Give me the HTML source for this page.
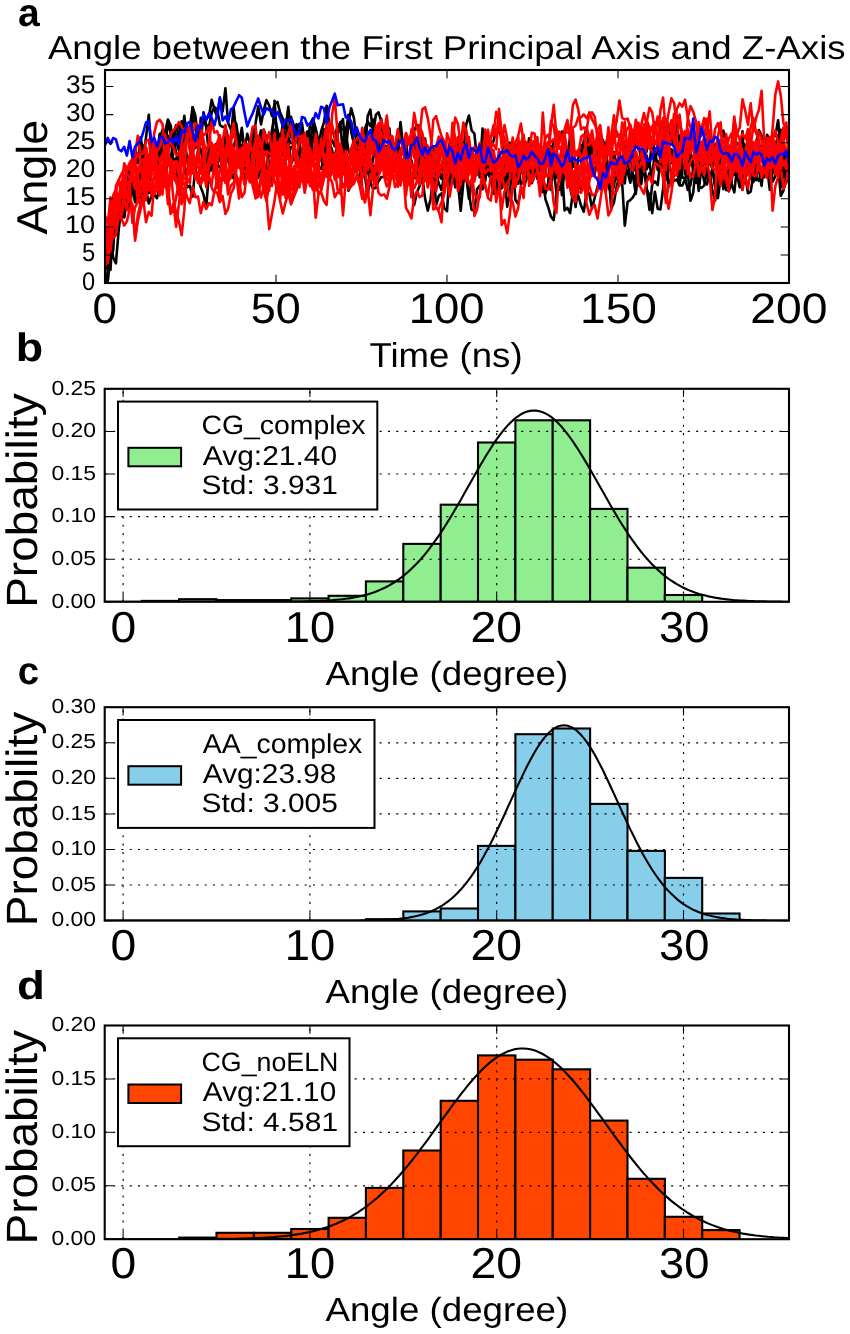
<!DOCTYPE html>
<html><head><meta charset="utf-8"><title>figure</title>
<style>html,body{margin:0;padding:0;background:#fff}svg{display:block;will-change:transform;transform:translateZ(0)}</style></head>
<body>
<svg width="850" height="1334" viewBox="0 0 850 1334" font-family="'Liberation Sans', sans-serif" text-rendering="geometricPrecision">
<rect width="850" height="1334" fill="#fff"/>
<clipPath id="ca"><rect x="105.0" y="70.0" width="684.0" height="213.0"/></clipPath>
<g clip-path="url(#ca)">
<polyline points="105.0,277.4 107.7,281.3 110.5,234.3 113.2,237.3 115.9,234.9 118.7,227.2 121.4,202.4 124.2,217.1 126.9,188.6 129.6,179.1 132.4,180.3 135.1,200.3 137.8,177.9 140.6,160.9 143.3,157.2 146.0,137.3 148.8,114.7 151.5,156.7 154.2,168.2 157.0,178.0 159.7,143.0 162.5,153.2 165.2,163.9 167.9,135.8 170.7,138.6 173.4,161.1 176.1,158.1 178.9,194.5 181.6,153.1 184.3,162.8 187.1,187.3 189.8,185.5 192.6,196.6 195.3,167.3 198.0,179.7 200.8,162.3 203.5,177.7 206.2,166.4 209.0,146.1 211.7,155.6 214.4,145.5 217.2,143.3 219.9,155.8 222.6,168.4 225.4,166.0 228.1,150.5 230.9,137.4 233.6,107.3 236.3,133.3 239.1,144.8 241.8,130.7 244.5,162.3 247.3,162.1 250.0,148.2 252.7,152.6 255.5,160.8 258.2,159.0 261.0,159.8 263.7,174.1 266.4,167.0 269.2,185.5 271.9,182.3 274.6,157.5 277.4,147.9 280.1,164.1 282.8,135.7 285.6,148.5 288.3,156.2 291.0,147.2 293.8,145.8 296.5,124.2 299.3,144.3 302.0,155.6 304.7,135.8 307.5,131.4 310.2,158.0 312.9,138.1 315.7,128.5 318.4,140.8 321.1,160.1 323.9,134.5 326.6,135.7 329.4,148.6 332.1,151.9 334.8,161.6 337.6,151.9 340.3,157.8 343.0,138.2 345.8,132.0 348.5,114.7 351.2,131.9 354.0,143.1 356.7,153.2 359.4,164.0 362.2,167.3 364.9,151.8 367.7,116.1 370.4,109.6 373.1,133.8 375.9,114.7 378.6,112.3 381.3,121.8 384.1,150.8 386.8,169.5 389.5,151.2 392.3,177.9 395.0,155.9 397.8,157.9 400.5,150.3 403.2,153.2 406.0,143.5 408.7,143.6 411.4,137.5 414.2,147.0 416.9,171.0 419.6,158.3 422.4,150.0 425.1,159.8 427.8,184.1 430.6,149.8 433.3,176.3 436.1,178.3 438.8,143.1 441.5,146.6 444.3,164.9 447.0,170.0 449.7,157.5 452.5,154.4 455.2,144.3 457.9,141.5 460.7,150.8 463.4,156.1 466.2,166.6 468.9,193.1 471.6,209.9 474.4,210.3 477.1,189.1 479.8,185.5 482.6,189.2 485.3,164.0 488.0,163.8 490.8,167.3 493.5,177.0 496.2,195.8 499.0,180.7 501.7,173.1 504.5,162.7 507.2,152.5 509.9,142.7 512.7,156.6 515.4,143.5 518.1,176.9 520.9,156.8 523.6,147.7 526.3,159.4 529.1,138.2 531.8,168.2 534.6,150.9 537.3,153.7 540.0,147.2 542.8,148.3 545.5,152.7 548.2,157.6 551.0,185.5 553.7,160.3 556.4,157.4 559.2,179.1 561.9,167.1 564.6,210.4 567.4,207.8 570.1,213.1 572.9,191.9 575.6,194.9 578.3,195.8 581.1,205.8 583.8,211.8 586.5,192.7 589.3,193.6 592.0,208.4 594.7,197.8 597.5,186.8 600.2,178.6 603.0,172.9 605.7,168.3 608.4,185.8 611.2,194.1 613.9,186.3 616.6,168.3 619.4,181.5 622.1,175.9 624.8,169.8 627.6,161.0 630.3,162.5 633.0,175.7 635.8,193.9 638.5,158.2 641.3,184.1 644.0,160.2 646.7,189.3 649.5,195.3 652.2,213.1 654.9,191.7 657.7,208.8 660.4,209.4 663.1,189.0 665.9,152.6 668.6,187.1 671.4,177.3 674.1,180.8 676.8,179.4 679.6,185.5 682.3,185.4 685.0,179.5 687.8,169.5 690.5,151.7 693.2,163.5 696.0,175.0 698.7,163.3 701.4,171.2 704.2,159.2 706.9,166.1 709.7,159.9 712.4,168.8 715.1,185.6 717.9,181.4 720.6,157.3 723.3,166.0 726.1,174.7 728.8,184.1 731.5,168.5 734.3,164.0 737.0,175.4 739.8,151.8 742.5,163.3 745.2,171.2 748.0,170.7 750.7,166.8 753.4,179.8 756.2,178.1 758.9,180.8 761.6,170.2 764.4,177.2 767.1,166.5 769.8,190.0 772.6,172.3 775.3,169.3 778.1,156.0 780.8,187.0 783.5,173.4 786.3,166.6 789.0,180.9" fill="none" stroke="#000" stroke-width="2.6" stroke-linejoin="round"/>
<polyline points="105.0,271.8 107.7,281.3 110.5,253.2 113.2,227.8 115.9,224.7 118.7,222.9 121.4,218.2 124.2,204.6 126.9,193.1 129.6,209.0 132.4,188.0 135.1,179.6 137.8,182.8 140.6,207.3 143.3,179.3 146.0,189.7 148.8,203.5 151.5,195.9 154.2,194.7 157.0,198.3 159.7,185.8 162.5,165.1 165.2,179.5 167.9,162.0 170.7,157.6 173.4,142.2 176.1,125.3 178.9,125.4 181.6,139.1 184.3,163.9 187.1,157.5 189.8,170.7 192.6,173.0 195.3,173.9 198.0,177.6 200.8,187.4 203.5,194.4 206.2,206.9 209.0,173.0 211.7,162.8 214.4,157.8 217.2,146.4 219.9,152.1 222.6,177.7 225.4,154.0 228.1,158.0 230.9,176.5 233.6,149.8 236.3,156.8 239.1,158.4 241.8,156.0 244.5,170.4 247.3,166.3 250.0,159.8 252.7,170.6 255.5,166.8 258.2,161.5 261.0,145.0 263.7,131.2 266.4,155.6 269.2,149.4 271.9,143.2 274.6,100.9 277.4,143.9 280.1,134.2 282.8,155.3 285.6,138.3 288.3,143.3 291.0,164.1 293.8,157.8 296.5,161.3 299.3,145.7 302.0,170.1 304.7,160.3 307.5,181.8 310.2,162.1 312.9,150.5 315.7,146.1 318.4,146.5 321.1,147.4 323.9,129.4 326.6,138.0 329.4,142.8 332.1,161.4 334.8,164.9 337.6,134.4 340.3,127.2 343.0,129.4 345.8,128.8 348.5,123.8 351.2,108.3 354.0,118.3 356.7,143.2 359.4,158.0 362.2,131.9 364.9,136.5 367.7,151.6 370.4,181.8 373.1,166.1 375.9,179.0 378.6,131.9 381.3,141.9 384.1,149.8 386.8,152.5 389.5,153.5 392.3,161.3 395.0,144.5 397.8,143.5 400.5,164.3 403.2,177.4 406.0,161.9 408.7,179.7 411.4,148.5 414.2,137.6 416.9,152.6 419.6,157.7 422.4,153.6 425.1,180.2 427.8,174.3 430.6,176.5 433.3,185.1 436.1,174.1 438.8,183.4 441.5,190.0 444.3,175.2 447.0,175.7 449.7,190.3 452.5,166.6 455.2,187.4 457.9,182.0 460.7,210.8 463.4,182.2 466.2,162.5 468.9,148.2 471.6,163.0 474.4,173.8 477.1,156.1 479.8,177.5 482.6,141.6 485.3,168.0 488.0,148.7 490.8,169.8 493.5,185.8 496.2,195.4 499.0,180.9 501.7,166.3 504.5,161.7 507.2,186.4 509.9,173.8 512.7,179.1 515.4,154.7 518.1,170.9 520.9,169.9 523.6,166.4 526.3,179.6 529.1,163.0 531.8,151.9 534.6,155.5 537.3,175.6 540.0,187.5 542.8,192.2 545.5,191.1 548.2,187.0 551.0,189.9 553.7,163.6 556.4,177.7 559.2,157.4 561.9,195.2 564.6,164.3 567.4,179.3 570.1,150.5 572.9,190.4 575.6,173.2 578.3,188.4 581.1,163.3 583.8,139.7 586.5,127.4 589.3,152.5 592.0,147.8 594.7,156.4 597.5,162.0 600.2,132.8 603.0,142.9 605.7,179.4 608.4,169.0 611.2,208.8 613.9,202.7 616.6,187.0 619.4,175.8 622.1,174.2 624.8,183.3 627.6,153.1 630.3,159.3 633.0,159.4 635.8,137.4 638.5,146.2 641.3,158.9 644.0,167.7 646.7,181.7 649.5,173.1 652.2,176.3 654.9,158.2 657.7,150.9 660.4,152.6 663.1,129.5 665.9,119.5 668.6,130.5 671.4,137.5 674.1,147.0 676.8,123.6 679.6,144.5 682.3,177.6 685.0,178.0 687.8,189.9 690.5,184.8 693.2,169.5 696.0,170.4 698.7,187.0 701.4,188.0 704.2,185.4 706.9,172.0 709.7,178.6 712.4,168.4 715.1,153.5 717.9,154.9 720.6,171.8 723.3,179.5 726.1,187.2 728.8,191.3 731.5,183.7 734.3,192.3 737.0,167.0 739.8,173.8 742.5,189.7 745.2,152.7 748.0,162.5 750.7,167.0 753.4,170.0 756.2,161.7 758.9,169.0 761.6,185.9 764.4,158.7 767.1,168.3 769.8,157.0 772.6,162.7 775.3,150.3 778.1,165.4 780.8,195.8 783.5,190.4 786.3,176.5 789.0,183.3" fill="none" stroke="#000" stroke-width="2.6" stroke-linejoin="round"/>
<polyline points="105.0,266.2 107.7,267.1 110.5,250.2 113.2,225.5 115.9,230.1 118.7,208.6 121.4,202.4 124.2,217.4 126.9,199.8 129.6,185.0 132.4,181.3 135.1,183.1 137.8,184.9 140.6,166.9 143.3,145.5 146.0,147.7 148.8,173.0 151.5,140.9 154.2,150.6 157.0,146.6 159.7,155.3 162.5,149.9 165.2,131.1 167.9,139.7 170.7,145.2 173.4,139.5 176.1,152.2 178.9,162.3 181.6,121.4 184.3,123.5 187.1,126.7 189.8,149.1 192.6,156.4 195.3,167.6 198.0,153.2 200.8,117.8 203.5,123.2 206.2,119.3 209.0,116.0 211.7,99.8 214.4,109.1 217.2,117.3 219.9,98.6 222.6,111.6 225.4,88.3 228.1,123.1 230.9,129.5 233.6,120.9 236.3,123.6 239.1,143.6 241.8,154.2 244.5,183.6 247.3,164.6 250.0,154.5 252.7,138.3 255.5,123.8 258.2,106.3 261.0,124.4 263.7,110.4 266.4,100.1 269.2,105.4 271.9,115.9 274.6,104.1 277.4,101.9 280.1,112.6 282.8,118.8 285.6,128.4 288.3,106.7 291.0,137.1 293.8,128.7 296.5,129.8 299.3,123.7 302.0,123.2 304.7,144.5 307.5,153.9 310.2,141.1 312.9,123.8 315.7,149.1 318.4,146.7 321.1,131.5 323.9,122.6 326.6,105.8 329.4,123.4 332.1,128.7 334.8,138.1 337.6,124.9 340.3,124.0 343.0,119.2 345.8,153.5 348.5,121.8 351.2,128.8 354.0,144.2 356.7,157.5 359.4,159.5 362.2,148.8 364.9,128.8 367.7,121.4 370.4,126.2 373.1,119.4 375.9,147.8 378.6,152.3 381.3,118.9 384.1,145.6 386.8,146.4 389.5,155.9 392.3,166.7 395.0,143.6 397.8,151.0 400.5,129.9 403.2,154.2 406.0,156.2 408.7,161.3 411.4,160.3 414.2,174.1 416.9,166.8 419.6,167.7 422.4,150.7 425.1,138.5 427.8,164.3 430.6,154.6 433.3,148.3 436.1,176.4 438.8,171.1 441.5,178.9 444.3,165.5 447.0,158.3 449.7,167.5 452.5,154.2 455.2,148.4 457.9,144.1 460.7,147.1 463.4,151.1 466.2,124.7 468.9,115.6 471.6,130.3 474.4,133.6 477.1,159.8 479.8,144.4 482.6,156.4 485.3,144.0 488.0,174.2 490.8,178.3 493.5,193.6 496.2,184.2 499.0,173.9 501.7,188.4 504.5,156.2 507.2,180.7 509.9,169.9 512.7,152.0 515.4,160.5 518.1,180.2 520.9,155.1 523.6,152.9 526.3,150.5 529.1,159.1 531.8,157.2 534.6,157.5 537.3,178.9 540.0,160.9 542.8,183.2 545.5,193.5 548.2,182.3 551.0,145.7 553.7,152.5 556.4,160.1 559.2,160.0 561.9,152.3 564.6,156.0 567.4,162.9 570.1,134.9 572.9,166.5 575.6,167.2 578.3,174.7 581.1,189.9 583.8,172.7 586.5,189.1 589.3,168.5 592.0,170.5 594.7,174.1 597.5,158.0 600.2,133.2 603.0,143.7 605.7,145.6 608.4,134.0 611.2,142.7 613.9,166.9 616.6,166.9 619.4,152.3 622.1,167.9 624.8,167.3 627.6,172.0 630.3,182.8 633.0,171.0 635.8,167.0 638.5,185.5 641.3,174.9 644.0,170.2 646.7,188.2 649.5,209.9 652.2,184.5 654.9,181.4 657.7,185.0 660.4,158.7 663.1,134.1 665.9,148.6 668.6,170.9 671.4,149.5 674.1,152.7 676.8,156.5 679.6,183.5 682.3,159.8 685.0,163.6 687.8,172.6 690.5,200.8 693.2,192.7 696.0,164.8 698.7,190.9 701.4,167.8 704.2,181.3 706.9,184.5 709.7,173.1 712.4,190.7 715.1,200.5 717.9,184.5 720.6,165.8 723.3,172.1 726.1,190.1 728.8,165.4 731.5,160.6 734.3,170.8 737.0,174.4 739.8,162.9 742.5,131.2 745.2,183.1 748.0,148.4 750.7,155.2 753.4,164.3 756.2,159.8 758.9,149.1 761.6,149.0 764.4,174.3 767.1,166.8 769.8,162.9 772.6,155.9 775.3,168.1 778.1,166.2 780.8,177.2 783.5,172.6 786.3,163.3 789.0,161.2" fill="none" stroke="#000" stroke-width="2.6" stroke-linejoin="round"/>
<polyline points="105.0,274.6 107.7,250.3 110.5,260.2 113.2,249.9 115.9,205.2 118.7,212.4 121.4,205.9 124.2,195.3 126.9,179.5 129.6,188.0 132.4,186.6 135.1,187.4 137.8,195.1 140.6,196.2 143.3,167.5 146.0,183.2 148.8,193.0 151.5,157.0 154.2,162.0 157.0,150.5 159.7,139.1 162.5,129.8 165.2,131.4 167.9,119.5 170.7,125.5 173.4,146.9 176.1,141.8 178.9,150.1 181.6,138.4 184.3,115.8 187.1,138.6 189.8,127.6 192.6,107.2 195.3,115.3 198.0,138.0 200.8,128.9 203.5,116.9 206.2,127.3 209.0,154.5 211.7,170.5 214.4,158.9 217.2,164.6 219.9,168.0 222.6,161.8 225.4,136.6 228.1,159.3 230.9,151.6 233.6,148.2 236.3,134.7 239.1,143.1 241.8,127.9 244.5,150.1 247.3,133.8 250.0,143.6 252.7,138.6 255.5,136.8 258.2,163.6 261.0,169.9 263.7,168.2 266.4,165.7 269.2,150.2 271.9,130.6 274.6,116.7 277.4,129.5 280.1,141.7 282.8,124.1 285.6,136.1 288.3,134.6 291.0,116.9 293.8,125.4 296.5,128.3 299.3,133.4 302.0,138.5 304.7,150.5 307.5,143.1 310.2,124.2 312.9,118.3 315.7,128.8 318.4,169.0 321.1,168.6 323.9,158.9 326.6,139.3 329.4,142.3 332.1,139.9 334.8,146.4 337.6,132.2 340.3,122.1 343.0,156.2 345.8,133.8 348.5,150.5 351.2,157.0 354.0,161.7 356.7,172.2 359.4,158.3 362.2,153.6 364.9,169.2 367.7,162.2 370.4,153.5 373.1,144.6 375.9,155.8 378.6,175.2 381.3,165.1 384.1,165.5 386.8,161.2 389.5,167.3 392.3,170.6 395.0,159.7 397.8,180.1 400.5,181.4 403.2,177.8 406.0,133.8 408.7,183.9 411.4,182.3 414.2,204.9 416.9,192.5 419.6,186.0 422.4,177.8 425.1,198.6 427.8,210.6 430.6,199.0 433.3,175.6 436.1,178.8 438.8,151.0 441.5,150.9 444.3,157.0 447.0,174.0 449.7,149.6 452.5,161.2 455.2,185.4 457.9,178.3 460.7,193.8 463.4,160.7 466.2,176.2 468.9,198.6 471.6,183.8 474.4,179.1 477.1,159.6 479.8,152.5 482.6,166.6 485.3,149.3 488.0,160.9 490.8,147.3 493.5,140.9 496.2,129.3 499.0,131.9 501.7,137.1 504.5,167.3 507.2,157.6 509.9,158.1 512.7,174.4 515.4,166.9 518.1,163.3 520.9,184.7 523.6,181.4 526.3,170.1 529.1,159.5 531.8,183.3 534.6,175.5 537.3,163.0 540.0,166.3 542.8,180.0 545.5,199.4 548.2,207.0 551.0,216.8 553.7,220.1 556.4,194.8 559.2,186.9 561.9,184.9 564.6,168.0 567.4,171.1 570.1,174.1 572.9,179.4 575.6,175.5 578.3,158.4 581.1,144.9 583.8,172.6 586.5,192.3 589.3,168.0 592.0,155.7 594.7,167.1 597.5,160.1 600.2,169.7 603.0,163.7 605.7,158.8 608.4,147.2 611.2,157.4 613.9,152.1 616.6,164.8 619.4,166.4 622.1,176.8 624.8,167.6 627.6,158.9 630.3,179.4 633.0,174.0 635.8,179.6 638.5,161.1 641.3,158.8 644.0,175.2 646.7,155.6 649.5,167.2 652.2,137.1 654.9,153.5 657.7,152.8 660.4,157.4 663.1,149.4 665.9,162.2 668.6,161.7 671.4,163.2 674.1,162.2 676.8,156.7 679.6,136.0 682.3,135.8 685.0,156.3 687.8,155.0 690.5,153.3 693.2,171.3 696.0,181.9 698.7,178.6 701.4,151.8 704.2,158.2 706.9,171.5 709.7,138.9 712.4,144.3 715.1,145.6 717.9,141.0 720.6,152.4 723.3,189.1 726.1,184.1 728.8,167.3 731.5,182.8 734.3,151.1 737.0,143.1 739.8,145.0 742.5,142.6 745.2,175.2 748.0,193.3 750.7,191.6 753.4,174.8 756.2,142.4 758.9,130.0 761.6,135.9 764.4,149.7 767.1,134.7 769.8,141.0 772.6,135.2 775.3,136.1 778.1,120.3 780.8,146.8 783.5,171.9 786.3,180.2 789.0,150.7" fill="none" stroke="#000" stroke-width="2.6" stroke-linejoin="round"/>
<polyline points="105.0,260.5 107.7,230.2 110.5,238.8 113.2,257.7 115.9,263.3 118.7,230.2 121.4,201.0 124.2,209.1 126.9,197.4 129.6,196.2 132.4,183.6 135.1,202.2 137.8,191.4 140.6,172.4 143.3,153.0 146.0,169.9 148.8,160.0 151.5,166.9 154.2,170.0 157.0,153.6 159.7,133.8 162.5,135.6 165.2,144.9 167.9,124.4 170.7,132.4 173.4,141.9 176.1,134.4 178.9,140.1 181.6,136.1 184.3,137.7 187.1,130.2 189.8,147.8 192.6,135.0 195.3,148.2 198.0,144.1 200.8,149.7 203.5,164.2 206.2,162.5 209.0,170.2 211.7,157.6 214.4,152.4 217.2,164.6 219.9,155.1 222.6,166.3 225.4,146.4 228.1,147.8 230.9,172.2 233.6,178.5 236.3,165.0 239.1,144.5 241.8,146.0 244.5,158.4 247.3,147.4 250.0,158.0 252.7,129.5 255.5,152.0 258.2,177.9 261.0,168.0 263.7,129.5 266.4,138.1 269.2,168.0 271.9,161.4 274.6,150.7 277.4,166.6 280.1,146.8 282.8,132.8 285.6,119.8 288.3,137.7 291.0,143.3 293.8,142.4 296.5,139.8 299.3,146.7 302.0,169.5 304.7,144.3 307.5,163.9 310.2,152.5 312.9,137.3 315.7,137.9 318.4,146.6 321.1,156.2 323.9,171.3 326.6,160.6 329.4,169.4 332.1,172.7 334.8,166.1 337.6,160.0 340.3,166.6 343.0,158.3 345.8,161.3 348.5,190.8 351.2,185.0 354.0,181.7 356.7,176.0 359.4,183.9 362.2,153.4 364.9,173.3 367.7,170.4 370.4,183.1 373.1,188.9 375.9,187.8 378.6,180.9 381.3,177.0 384.1,176.8 386.8,166.8 389.5,160.8 392.3,166.3 395.0,162.3 397.8,144.1 400.5,160.4 403.2,162.9 406.0,169.8 408.7,158.4 411.4,185.3 414.2,174.8 416.9,179.4 419.6,162.4 422.4,150.1 425.1,168.3 427.8,161.9 430.6,175.8 433.3,169.3 436.1,205.2 438.8,195.8 441.5,193.5 444.3,208.2 447.0,211.2 449.7,171.3 452.5,165.5 455.2,156.4 457.9,151.2 460.7,144.5 463.4,153.7 466.2,160.0 468.9,141.5 471.6,165.4 474.4,174.5 477.1,167.1 479.8,149.9 482.6,161.2 485.3,181.1 488.0,146.2 490.8,181.2 493.5,180.1 496.2,172.0 499.0,165.5 501.7,168.2 504.5,176.3 507.2,206.7 509.9,193.2 512.7,160.0 515.4,199.9 518.1,204.1 520.9,190.6 523.6,188.4 526.3,179.0 529.1,166.0 531.8,175.5 534.6,169.4 537.3,153.3 540.0,157.9 542.8,190.0 545.5,149.8 548.2,161.3 551.0,174.2 553.7,139.3 556.4,142.4 559.2,142.4 561.9,131.5 564.6,143.5 567.4,151.2 570.1,145.7 572.9,188.9 575.6,207.0 578.3,185.8 581.1,165.6 583.8,156.4 586.5,148.4 589.3,156.9 592.0,145.1 594.7,170.9 597.5,135.6 600.2,136.5 603.0,140.2 605.7,149.4 608.4,170.2 611.2,155.2 613.9,170.0 616.6,161.1 619.4,169.6 622.1,182.0 624.8,225.7 627.6,201.8 630.3,200.1 633.0,197.2 635.8,191.5 638.5,170.0 641.3,177.5 644.0,156.9 646.7,151.4 649.5,135.4 652.2,154.5 654.9,160.1 657.7,161.3 660.4,167.8 663.1,147.6 665.9,179.9 668.6,167.6 671.4,149.2 674.1,165.7 676.8,144.2 679.6,144.8 682.3,147.7 685.0,174.2 687.8,162.2 690.5,164.5 693.2,164.1 696.0,182.8 698.7,154.7 701.4,159.0 704.2,150.5 706.9,149.1 709.7,151.7 712.4,158.1 715.1,144.5 717.9,153.3 720.6,149.0 723.3,130.5 726.1,140.6 728.8,160.5 731.5,168.5 734.3,161.4 737.0,153.4 739.8,164.4 742.5,143.2 745.2,145.0 748.0,157.2 750.7,178.3 753.4,176.6 756.2,180.2 758.9,151.5 761.6,147.8 764.4,140.8 767.1,162.7 769.8,175.5 772.6,172.3 775.3,146.3 778.1,135.1 780.8,153.9 783.5,152.0 786.3,174.1 789.0,162.7" fill="none" stroke="#000" stroke-width="2.6" stroke-linejoin="round"/>
<polyline points="105.0,269.0 107.7,228.2 110.5,269.9 113.2,219.6 115.9,216.8 118.7,201.2 121.4,201.4 124.2,197.0 126.9,185.4 129.6,170.3 132.4,166.5 135.1,148.3 137.8,163.1 140.6,137.2 143.3,153.6 146.0,163.6 148.8,156.0 151.5,158.8 154.2,158.4 157.0,163.6 159.7,171.5 162.5,173.1 165.2,145.3 167.9,151.8 170.7,129.9 173.4,135.9 176.1,125.4 178.9,137.1 181.6,142.7 184.3,139.2 187.1,158.2 189.8,158.9 192.6,107.4 195.3,128.2 198.0,136.1 200.8,144.2 203.5,112.3 206.2,124.9 209.0,126.6 211.7,112.7 214.4,107.0 217.2,109.2 219.9,125.0 222.6,127.0 225.4,126.4 228.1,138.0 230.9,147.5 233.6,162.0 236.3,165.3 239.1,159.9 241.8,167.5 244.5,156.1 247.3,162.8 250.0,153.1 252.7,142.6 255.5,139.8 258.2,142.8 261.0,130.2 263.7,151.9 266.4,136.7 269.2,155.9 271.9,145.3 274.6,129.8 277.4,138.3 280.1,157.4 282.8,171.4 285.6,156.7 288.3,130.6 291.0,124.9 293.8,143.7 296.5,158.0 299.3,146.5 302.0,126.4 304.7,156.6 307.5,132.0 310.2,141.1 312.9,154.8 315.7,157.6 318.4,162.3 321.1,155.7 323.9,156.7 326.6,152.9 329.4,142.3 332.1,149.9 334.8,168.1 337.6,166.7 340.3,170.4 343.0,174.3 345.8,158.1 348.5,178.6 351.2,174.3 354.0,169.4 356.7,128.7 359.4,143.2 362.2,169.0 364.9,175.6 367.7,196.3 370.4,172.9 373.1,159.0 375.9,131.9 378.6,131.6 381.3,154.4 384.1,135.0 386.8,134.9 389.5,128.4 392.3,166.4 395.0,159.4 397.8,147.2 400.5,122.0 403.2,147.1 406.0,140.2 408.7,139.5 411.4,146.2 414.2,130.2 416.9,125.0 419.6,125.9 422.4,154.2 425.1,176.9 427.8,178.1 430.6,167.0 433.3,182.8 436.1,189.3 438.8,174.5 441.5,169.5 444.3,149.1 447.0,158.8 449.7,142.6 452.5,165.4 455.2,143.5 457.9,164.4 460.7,159.6 463.4,165.1 466.2,159.6 468.9,157.7 471.6,151.4 474.4,171.1 477.1,158.9 479.8,167.4 482.6,128.6 485.3,175.2 488.0,167.8 490.8,165.1 493.5,182.0 496.2,174.3 499.0,188.2 501.7,162.9 504.5,174.0 507.2,151.7 509.9,156.6 512.7,151.0 515.4,181.2 518.1,183.7 520.9,169.9 523.6,174.9 526.3,176.7 529.1,165.4 531.8,168.8 534.6,171.8 537.3,166.6 540.0,168.8 542.8,155.3 545.5,147.9 548.2,151.2 551.0,156.0 553.7,167.5 556.4,192.7 559.2,189.1 561.9,190.1 564.6,167.6 567.4,181.5 570.1,187.8 572.9,199.9 575.6,196.5 578.3,182.5 581.1,174.5 583.8,158.6 586.5,154.3 589.3,137.6 592.0,155.6 594.7,161.6 597.5,150.7 600.2,176.9 603.0,173.3 605.7,153.8 608.4,178.2 611.2,180.0 613.9,172.9 616.6,178.2 619.4,182.7 622.1,167.8 624.8,142.2 627.6,156.9 630.3,161.9 633.0,171.3 635.8,164.9 638.5,177.9 641.3,176.5 644.0,159.5 646.7,169.2 649.5,162.1 652.2,181.4 654.9,148.2 657.7,170.0 660.4,162.5 663.1,167.7 665.9,170.5 668.6,163.5 671.4,172.7 674.1,167.7 676.8,167.5 679.6,184.5 682.3,156.1 685.0,146.9 687.8,154.9 690.5,135.6 693.2,133.6 696.0,142.6 698.7,142.9 701.4,161.9 704.2,161.3 706.9,156.3 709.7,163.7 712.4,167.2 715.1,186.7 717.9,198.1 720.6,178.3 723.3,155.8 726.1,152.0 728.8,166.4 731.5,150.2 734.3,174.6 737.0,174.9 739.8,187.4 742.5,169.7 745.2,171.8 748.0,163.8 750.7,176.9 753.4,182.0 756.2,167.1 758.9,170.1 761.6,172.4 764.4,158.8 767.1,171.7 769.8,169.0 772.6,181.6 775.3,176.1 778.1,149.8 780.8,129.9 783.5,148.6 786.3,162.0 789.0,171.3" fill="none" stroke="#000" stroke-width="2.6" stroke-linejoin="round"/>
<polyline points="105.0,260.5 107.7,253.6 110.5,241.3 113.2,237.4 115.9,235.1 118.7,215.7 121.4,218.4 124.2,225.6 126.9,221.4 129.6,208.7 132.4,204.2 135.1,240.6 137.8,221.3 140.6,209.6 143.3,196.7 146.0,200.3 148.8,173.8 151.5,174.4 154.2,141.2 157.0,171.6 159.7,165.0 162.5,153.8 165.2,156.9 167.9,164.9 170.7,166.3 173.4,161.4 176.1,162.7 178.9,165.4 181.6,193.9 184.3,201.7 187.1,174.5 189.8,166.1 192.6,171.7 195.3,168.2 198.0,162.1 200.8,130.5 203.5,152.7 206.2,173.4 209.0,179.5 211.7,184.8 214.4,163.1 217.2,186.4 219.9,169.7 222.6,163.4 225.4,166.3 228.1,138.1 230.9,176.1 233.6,163.9 236.3,168.2 239.1,165.8 241.8,171.7 244.5,149.8 247.3,154.3 250.0,143.9 252.7,151.9 255.5,148.7 258.2,161.4 261.0,158.3 263.7,130.3 266.4,142.5 269.2,132.2 271.9,152.0 274.6,156.9 277.4,180.2 280.1,168.3 282.8,158.7 285.6,164.1 288.3,194.1 291.0,164.9 293.8,146.2 296.5,166.9 299.3,162.6 302.0,157.4 304.7,132.7 307.5,158.7 310.2,148.6 312.9,163.1 315.7,156.4 318.4,158.6 321.1,153.0 323.9,153.5 326.6,160.0 329.4,122.5 332.1,124.7 334.8,136.8 337.6,156.0 340.3,176.7 343.0,215.4 345.8,179.4 348.5,159.2 351.2,148.4 354.0,140.5 356.7,147.8 359.4,148.3 362.2,139.0 364.9,155.7 367.7,147.1 370.4,157.2 373.1,176.7 375.9,162.1 378.6,128.0 381.3,133.4 384.1,139.0 386.8,130.0 389.5,160.4 392.3,159.2 395.0,169.1 397.8,186.6 400.5,160.9 403.2,169.8 406.0,207.9 408.7,212.5 411.4,218.5 414.2,197.0 416.9,191.3 419.6,197.1 422.4,195.5 425.1,161.4 427.8,187.5 430.6,176.1 433.3,175.6 436.1,177.7 438.8,175.4 441.5,164.2 444.3,158.2 447.0,152.6 449.7,161.4 452.5,140.0 455.2,146.3 457.9,168.5 460.7,158.6 463.4,155.2 466.2,174.5 468.9,184.4 471.6,179.1 474.4,216.0 477.1,209.2 479.8,192.9 482.6,175.4 485.3,184.8 488.0,198.1 490.8,200.6 493.5,180.6 496.2,175.5 499.0,159.4 501.7,174.3 504.5,158.4 507.2,166.9 509.9,145.0 512.7,151.2 515.4,142.0 518.1,137.0 520.9,156.3 523.6,148.5 526.3,164.7 529.1,145.9 531.8,149.3 534.6,160.8 537.3,140.1 540.0,166.4 542.8,112.5 545.5,148.4 548.2,141.8 551.0,149.9 553.7,155.3 556.4,150.5 559.2,163.6 561.9,147.4 564.6,141.3 567.4,151.4 570.1,161.7 572.9,146.9 575.6,154.0 578.3,149.8 581.1,156.3 583.8,165.9 586.5,127.4 589.3,137.4 592.0,142.8 594.7,149.1 597.5,133.6 600.2,132.2 603.0,145.8 605.7,151.5 608.4,150.5 611.2,144.1 613.9,131.1 616.6,121.3 619.4,100.6 622.1,117.8 624.8,119.5 627.6,118.7 630.3,127.5 633.0,132.2 635.8,136.3 638.5,128.8 641.3,139.2 644.0,136.1 646.7,138.6 649.5,128.7 652.2,127.6 654.9,125.6 657.7,120.8 660.4,141.0 663.1,130.0 665.9,130.3 668.6,112.7 671.4,98.4 674.1,103.1 676.8,123.5 679.6,114.7 682.3,143.6 685.0,136.5 687.8,154.1 690.5,141.2 693.2,147.7 696.0,162.1 698.7,144.0 701.4,155.2 704.2,156.9 706.9,158.5 709.7,159.0 712.4,158.7 715.1,157.0 717.9,166.6 720.6,185.8 723.3,151.3 726.1,155.7 728.8,166.0 731.5,173.1 734.3,159.6 737.0,154.7 739.8,146.7 742.5,165.3 745.2,171.3 748.0,169.7 750.7,172.6 753.4,171.3 756.2,151.5 758.9,160.3 761.6,148.8 764.4,166.5 767.1,162.0 769.8,149.8 772.6,210.7 775.3,186.3 778.1,177.0 780.8,138.5 783.5,127.4 786.3,138.4 789.0,131.1" fill="none" stroke="#f00" stroke-width="2.6" stroke-linejoin="round"/>
<polyline points="105.0,238.1 107.7,233.3 110.5,250.5 113.2,227.5 115.9,204.1 118.7,196.3 121.4,215.8 124.2,199.9 126.9,197.0 129.6,194.4 132.4,207.2 135.1,235.0 137.8,215.6 140.6,202.4 143.3,199.3 146.0,222.1 148.8,211.9 151.5,215.7 154.2,186.2 157.0,185.9 159.7,195.5 162.5,164.4 165.2,171.1 167.9,204.1 170.7,173.7 173.4,164.9 176.1,181.7 178.9,176.8 181.6,166.0 184.3,145.1 187.1,134.9 189.8,149.2 192.6,167.4 195.3,178.9 198.0,174.9 200.8,169.0 203.5,169.9 206.2,187.1 209.0,166.6 211.7,150.7 214.4,153.0 217.2,145.9 219.9,138.6 222.6,141.2 225.4,125.0 228.1,151.3 230.9,160.3 233.6,150.8 236.3,154.6 239.1,149.5 241.8,150.0 244.5,152.8 247.3,154.7 250.0,177.0 252.7,159.4 255.5,170.1 258.2,193.7 261.0,177.6 263.7,190.9 266.4,200.9 269.2,185.3 271.9,186.1 274.6,171.8 277.4,142.1 280.1,150.3 282.8,129.7 285.6,160.5 288.3,181.3 291.0,185.1 293.8,166.4 296.5,172.9 299.3,187.4 302.0,172.5 304.7,192.8 307.5,176.2 310.2,177.4 312.9,186.8 315.7,190.3 318.4,171.7 321.1,176.5 323.9,166.3 326.6,172.5 329.4,163.5 332.1,155.6 334.8,170.2 337.6,170.9 340.3,150.0 343.0,166.1 345.8,153.3 348.5,180.3 351.2,179.4 354.0,173.9 356.7,153.7 359.4,153.5 362.2,186.4 364.9,202.5 367.7,190.2 370.4,174.1 373.1,180.3 375.9,167.3 378.6,172.1 381.3,154.7 384.1,161.2 386.8,170.5 389.5,178.7 392.3,136.9 395.0,153.3 397.8,186.4 400.5,169.9 403.2,159.1 406.0,195.1 408.7,170.9 411.4,129.2 414.2,155.3 416.9,165.2 419.6,136.5 422.4,165.1 425.1,176.5 427.8,163.8 430.6,172.5 433.3,162.9 436.1,148.0 438.8,159.5 441.5,137.2 444.3,141.8 447.0,150.2 449.7,166.0 452.5,122.7 455.2,138.1 457.9,168.2 460.7,156.3 463.4,158.6 466.2,181.0 468.9,174.0 471.6,168.3 474.4,174.6 477.1,158.5 479.8,153.2 482.6,160.0 485.3,147.0 488.0,157.8 490.8,147.1 493.5,165.4 496.2,175.9 499.0,176.3 501.7,225.0 504.5,220.0 507.2,233.3 509.9,213.3 512.7,186.1 515.4,161.9 518.1,155.6 520.9,167.1 523.6,148.0 526.3,163.0 529.1,152.5 531.8,132.7 534.6,133.4 537.3,165.0 540.0,147.0 542.8,150.8 545.5,138.1 548.2,134.5 551.0,142.4 553.7,139.4 556.4,143.6 559.2,182.3 561.9,169.6 564.6,173.3 567.4,174.8 570.1,182.7 572.9,171.0 575.6,189.5 578.3,172.4 581.1,171.9 583.8,168.5 586.5,184.4 589.3,170.8 592.0,155.4 594.7,176.0 597.5,179.1 600.2,174.3 603.0,167.5 605.7,160.2 608.4,140.8 611.2,137.2 613.9,115.2 616.6,136.7 619.4,134.5 622.1,149.5 624.8,163.6 627.6,155.9 630.3,126.8 633.0,145.8 635.8,141.7 638.5,132.4 641.3,138.4 644.0,124.2 646.7,125.3 649.5,147.5 652.2,138.8 654.9,140.3 657.7,145.8 660.4,121.7 663.1,135.4 665.9,128.4 668.6,145.7 671.4,160.2 674.1,157.4 676.8,172.8 679.6,156.4 682.3,142.1 685.0,132.1 687.8,158.5 690.5,140.0 693.2,141.1 696.0,133.0 698.7,128.3 701.4,128.5 704.2,118.5 706.9,126.8 709.7,132.1 712.4,142.7 715.1,165.5 717.9,166.6 720.6,165.4 723.3,176.8 726.1,149.8 728.8,138.9 731.5,133.7 734.3,142.5 737.0,133.7 739.8,127.4 742.5,99.4 745.2,110.5 748.0,124.7 750.7,103.3 753.4,129.9 756.2,117.7 758.9,109.8 761.6,90.7 764.4,145.1 767.1,151.7 769.8,164.0 772.6,156.9 775.3,148.9 778.1,154.0 780.8,161.2 783.5,150.2 786.3,151.4 789.0,159.2" fill="none" stroke="#f00" stroke-width="2.6" stroke-linejoin="round"/>
<polyline points="105.0,215.6 107.7,223.3 110.5,230.5 113.2,222.3 115.9,209.7 118.7,200.2 121.4,188.0 124.2,180.3 126.9,196.8 129.6,184.3 132.4,178.0 135.1,189.2 137.8,175.2 140.6,194.1 143.3,198.0 146.0,184.2 148.8,189.7 151.5,183.1 154.2,190.3 157.0,175.8 159.7,175.9 162.5,178.6 165.2,155.3 167.9,184.9 170.7,212.0 173.4,212.0 176.1,197.8 178.9,180.6 181.6,204.3 184.3,187.5 187.1,197.2 189.8,203.1 192.6,187.3 195.3,197.2 198.0,196.6 200.8,213.1 203.5,201.7 206.2,209.0 209.0,203.1 211.7,205.3 214.4,191.0 217.2,192.9 219.9,202.1 222.6,195.9 225.4,214.0 228.1,208.7 230.9,193.5 233.6,188.6 236.3,168.8 239.1,152.6 241.8,169.3 244.5,170.6 247.3,176.5 250.0,182.5 252.7,160.4 255.5,138.2 258.2,135.8 261.0,144.2 263.7,169.7 266.4,170.6 269.2,176.8 271.9,157.8 274.6,133.4 277.4,175.9 280.1,176.3 282.8,163.3 285.6,198.0 288.3,167.6 291.0,204.4 293.8,197.0 296.5,190.2 299.3,181.1 302.0,181.2 304.7,183.9 307.5,177.8 310.2,186.2 312.9,178.9 315.7,166.9 318.4,187.7 321.1,178.7 323.9,173.0 326.6,174.3 329.4,179.9 332.1,170.9 334.8,157.3 337.6,177.3 340.3,143.8 343.0,155.1 345.8,153.3 348.5,166.8 351.2,178.7 354.0,156.0 356.7,157.1 359.4,159.8 362.2,158.6 364.9,156.7 367.7,161.7 370.4,142.6 373.1,143.1 375.9,126.5 378.6,135.1 381.3,119.8 384.1,132.4 386.8,115.6 389.5,139.0 392.3,136.2 395.0,171.4 397.8,160.5 400.5,149.5 403.2,144.2 406.0,165.6 408.7,156.5 411.4,164.1 414.2,175.6 416.9,167.6 419.6,172.3 422.4,175.8 425.1,160.2 427.8,185.5 430.6,178.1 433.3,182.1 436.1,191.2 438.8,142.4 441.5,141.8 444.3,155.1 447.0,152.2 449.7,154.4 452.5,142.3 455.2,117.6 457.9,123.7 460.7,145.6 463.4,122.5 466.2,134.7 468.9,168.1 471.6,164.3 474.4,167.7 477.1,175.0 479.8,146.0 482.6,159.5 485.3,162.0 488.0,129.8 490.8,160.2 493.5,150.1 496.2,166.8 499.0,177.3 501.7,167.1 504.5,175.5 507.2,159.2 509.9,171.2 512.7,144.4 515.4,148.7 518.1,167.4 520.9,143.1 523.6,134.7 526.3,159.8 529.1,168.5 531.8,149.8 534.6,140.6 537.3,167.1 540.0,189.2 542.8,155.4 545.5,169.3 548.2,155.4 551.0,126.8 553.7,104.9 556.4,134.9 559.2,143.0 561.9,135.4 564.6,135.2 567.4,125.3 570.1,133.3 572.9,105.1 575.6,99.7 578.3,109.6 581.1,129.5 583.8,127.4 586.5,131.2 589.3,112.2 592.0,119.3 594.7,124.3 597.5,131.6 600.2,125.1 603.0,149.5 605.7,192.4 608.4,215.4 611.2,209.9 613.9,172.5 616.6,166.4 619.4,153.2 622.1,122.6 624.8,130.9 627.6,151.9 630.3,140.7 633.0,137.3 635.8,129.0 638.5,122.9 641.3,135.2 644.0,133.2 646.7,122.0 649.5,107.7 652.2,112.5 654.9,130.8 657.7,116.6 660.4,130.1 663.1,117.9 665.9,125.3 668.6,141.5 671.4,134.0 674.1,135.5 676.8,109.2 679.6,103.2 682.3,106.6 685.0,99.6 687.8,117.5 690.5,106.1 693.2,111.5 696.0,121.5 698.7,147.9 701.4,141.9 704.2,143.2 706.9,139.1 709.7,136.1 712.4,151.1 715.1,157.1 717.9,161.1 720.6,148.0 723.3,151.6 726.1,159.5 728.8,160.3 731.5,171.8 734.3,148.0 737.0,171.6 739.8,159.7 742.5,190.0 745.2,173.8 748.0,147.1 750.7,127.2 753.4,117.9 756.2,133.3 758.9,131.6 761.6,140.1 764.4,150.8 767.1,149.3 769.8,160.8 772.6,139.6 775.3,130.6 778.1,142.0 780.8,152.3 783.5,144.1 786.3,122.5 789.0,152.0" fill="none" stroke="#f00" stroke-width="2.6" stroke-linejoin="round"/>
<polyline points="105.0,249.3 107.7,258.1 110.5,198.8 113.2,208.5 115.9,201.9 118.7,197.1 121.4,181.4 124.2,178.8 126.9,169.8 129.6,167.6 132.4,162.3 135.1,160.6 137.8,153.6 140.6,160.3 143.3,159.2 146.0,182.5 148.8,155.0 151.5,157.7 154.2,133.2 157.0,121.9 159.7,119.8 162.5,123.9 165.2,151.2 167.9,155.6 170.7,133.7 173.4,130.3 176.1,127.1 178.9,122.1 181.6,126.5 184.3,134.1 187.1,133.2 189.8,132.5 192.6,134.4 195.3,123.1 198.0,125.6 200.8,124.3 203.5,140.4 206.2,152.8 209.0,142.3 211.7,142.9 214.4,159.7 217.2,142.8 219.9,135.3 222.6,180.6 225.4,159.3 228.1,186.0 230.9,141.2 233.6,133.5 236.3,141.3 239.1,167.6 241.8,158.9 244.5,142.4 247.3,169.1 250.0,180.2 252.7,162.8 255.5,155.6 258.2,143.6 261.0,147.8 263.7,152.8 266.4,151.3 269.2,153.2 271.9,156.6 274.6,162.5 277.4,168.7 280.1,164.4 282.8,177.9 285.6,162.3 288.3,144.1 291.0,183.1 293.8,173.1 296.5,165.9 299.3,169.0 302.0,163.2 304.7,139.3 307.5,138.3 310.2,158.1 312.9,156.5 315.7,180.1 318.4,165.2 321.1,153.9 323.9,155.0 326.6,176.6 329.4,162.9 332.1,162.9 334.8,176.3 337.6,174.0 340.3,164.1 343.0,166.5 345.8,150.9 348.5,160.1 351.2,164.4 354.0,152.6 356.7,167.1 359.4,167.4 362.2,163.1 364.9,168.3 367.7,161.6 370.4,131.0 373.1,146.5 375.9,142.1 378.6,153.9 381.3,153.0 384.1,146.6 386.8,167.8 389.5,148.5 392.3,175.5 395.0,175.8 397.8,179.0 400.5,158.0 403.2,146.3 406.0,175.8 408.7,184.3 411.4,177.3 414.2,164.8 416.9,180.0 419.6,184.6 422.4,155.5 425.1,180.9 427.8,181.1 430.6,158.4 433.3,175.8 436.1,164.7 438.8,170.6 441.5,171.4 444.3,173.9 447.0,171.5 449.7,152.5 452.5,165.6 455.2,146.7 457.9,176.5 460.7,184.7 463.4,144.6 466.2,164.3 468.9,157.5 471.6,170.8 474.4,181.5 477.1,167.7 479.8,164.4 482.6,176.3 485.3,187.5 488.0,195.1 490.8,176.4 493.5,177.4 496.2,167.8 499.0,181.5 501.7,209.2 504.5,191.4 507.2,186.4 509.9,198.4 512.7,202.0 515.4,216.6 518.1,208.3 520.9,185.7 523.6,198.0 526.3,148.7 529.1,146.0 531.8,157.7 534.6,148.9 537.3,147.2 540.0,144.7 542.8,150.3 545.5,171.2 548.2,155.0 551.0,120.9 553.7,126.9 556.4,144.7 559.2,131.5 561.9,140.0 564.6,129.3 567.4,120.0 570.1,138.2 572.9,151.6 575.6,154.5 578.3,156.0 581.1,136.6 583.8,134.6 586.5,156.0 589.3,176.4 592.0,176.2 594.7,147.9 597.5,168.1 600.2,143.6 603.0,143.9 605.7,154.3 608.4,127.2 611.2,147.8 613.9,130.8 616.6,131.3 619.4,137.8 622.1,136.1 624.8,133.3 627.6,128.6 630.3,124.5 633.0,137.0 635.8,134.4 638.5,141.7 641.3,145.9 644.0,145.6 646.7,142.7 649.5,148.3 652.2,140.9 654.9,127.1 657.7,135.2 660.4,162.1 663.1,137.5 665.9,170.3 668.6,141.2 671.4,136.3 674.1,113.7 676.8,115.0 679.6,120.2 682.3,137.0 685.0,145.2 687.8,173.9 690.5,161.1 693.2,157.2 696.0,152.0 698.7,160.5 701.4,157.1 704.2,139.3 706.9,158.8 709.7,176.8 712.4,209.9 715.1,197.3 717.9,146.8 720.6,141.5 723.3,149.6 726.1,170.8 728.8,165.9 731.5,167.8 734.3,171.6 737.0,149.7 739.8,159.4 742.5,174.3 745.2,164.8 748.0,158.2 750.7,145.1 753.4,125.9 756.2,133.2 758.9,139.7 761.6,162.2 764.4,159.0 767.1,159.6 769.8,166.9 772.6,147.3 775.3,157.9 778.1,176.9 780.8,157.1 783.5,162.2 786.3,169.1 789.0,152.5" fill="none" stroke="#f00" stroke-width="2.6" stroke-linejoin="round"/>
<polyline points="105.0,226.9 107.7,262.9 110.5,241.6 113.2,215.4 115.9,195.0 118.7,211.3 121.4,215.2 124.2,193.7 126.9,182.6 129.6,182.1 132.4,171.8 135.1,159.4 137.8,174.5 140.6,160.5 143.3,189.1 146.0,155.8 148.8,160.4 151.5,174.8 154.2,159.4 157.0,180.5 159.7,166.6 162.5,166.3 165.2,134.8 167.9,149.6 170.7,170.4 173.4,198.7 176.1,213.0 178.9,221.3 181.6,235.3 184.3,210.4 187.1,168.7 189.8,159.3 192.6,152.8 195.3,134.5 198.0,143.6 200.8,173.4 203.5,168.2 206.2,150.7 209.0,144.7 211.7,121.1 214.4,132.7 217.2,131.1 219.9,139.9 222.6,158.7 225.4,159.5 228.1,143.4 230.9,136.3 233.6,123.1 236.3,143.5 239.1,164.0 241.8,155.3 244.5,155.1 247.3,167.3 250.0,142.8 252.7,153.3 255.5,155.6 258.2,163.6 261.0,160.3 263.7,156.3 266.4,191.4 269.2,191.0 271.9,153.2 274.6,147.3 277.4,144.7 280.1,164.4 282.8,168.2 285.6,184.0 288.3,167.6 291.0,181.0 293.8,169.6 296.5,178.8 299.3,166.9 302.0,180.2 304.7,177.5 307.5,178.6 310.2,168.2 312.9,183.5 315.7,166.7 318.4,152.0 321.1,154.7 323.9,146.2 326.6,128.6 329.4,147.2 332.1,156.5 334.8,168.9 337.6,189.9 340.3,189.5 343.0,155.9 345.8,183.7 348.5,170.2 351.2,157.2 354.0,141.9 356.7,139.4 359.4,134.9 362.2,154.9 364.9,173.4 367.7,137.4 370.4,141.2 373.1,155.2 375.9,133.9 378.6,164.6 381.3,164.1 384.1,158.3 386.8,148.0 389.5,171.5 392.3,159.9 395.0,161.1 397.8,180.4 400.5,185.5 403.2,168.6 406.0,139.2 408.7,141.1 411.4,133.2 414.2,131.1 416.9,148.1 419.6,126.1 422.4,133.4 425.1,156.2 427.8,151.7 430.6,158.6 433.3,158.6 436.1,146.7 438.8,136.7 441.5,142.6 444.3,171.3 447.0,180.4 449.7,171.4 452.5,161.9 455.2,175.8 457.9,167.1 460.7,174.2 463.4,161.4 466.2,174.7 468.9,137.0 471.6,162.3 474.4,168.5 477.1,154.2 479.8,157.6 482.6,155.8 485.3,163.0 488.0,155.2 490.8,141.6 493.5,144.8 496.2,149.1 499.0,108.8 501.7,132.5 504.5,137.6 507.2,171.7 509.9,156.7 512.7,137.6 515.4,173.3 518.1,136.5 520.9,123.6 523.6,142.5 526.3,142.1 529.1,146.1 531.8,169.2 534.6,153.5 537.3,156.4 540.0,155.5 542.8,153.4 545.5,170.1 548.2,155.0 551.0,163.7 553.7,155.5 556.4,129.1 559.2,148.7 561.9,146.6 564.6,135.8 567.4,176.3 570.1,162.7 572.9,176.8 575.6,173.2 578.3,184.8 581.1,165.0 583.8,153.5 586.5,190.3 589.3,180.2 592.0,169.2 594.7,158.7 597.5,143.3 600.2,158.7 603.0,183.6 605.7,193.0 608.4,174.4 611.2,181.4 613.9,194.1 616.6,191.6 619.4,183.4 622.1,178.0 624.8,170.7 627.6,155.0 630.3,166.9 633.0,170.6 635.8,151.5 638.5,183.3 641.3,188.7 644.0,193.8 646.7,181.8 649.5,176.1 652.2,183.6 654.9,162.9 657.7,165.1 660.4,166.5 663.1,178.3 665.9,202.9 668.6,185.1 671.4,185.1 674.1,154.8 676.8,137.7 679.6,119.7 682.3,136.0 685.0,131.0 687.8,149.3 690.5,148.6 693.2,145.2 696.0,155.3 698.7,145.4 701.4,163.6 704.2,150.7 706.9,146.6 709.7,158.7 712.4,156.9 715.1,149.2 717.9,168.4 720.6,184.6 723.3,169.8 726.1,180.9 728.8,190.6 731.5,155.4 734.3,160.6 737.0,158.3 739.8,165.1 742.5,153.1 745.2,161.1 748.0,129.4 750.7,150.2 753.4,175.6 756.2,175.6 758.9,158.4 761.6,147.9 764.4,152.7 767.1,151.0 769.8,146.5 772.6,134.9 775.3,150.9 778.1,153.7 780.8,150.3 783.5,133.7 786.3,133.9 789.0,127.0" fill="none" stroke="#f00" stroke-width="2.6" stroke-linejoin="round"/>
<polyline points="105.0,254.9 107.7,236.9 110.5,219.8 113.2,213.8 115.9,228.2 118.7,199.1 121.4,190.7 124.2,163.3 126.9,169.5 129.6,163.0 132.4,158.6 135.1,153.9 137.8,135.8 140.6,155.0 143.3,153.4 146.0,141.2 148.8,139.5 151.5,161.3 154.2,140.1 157.0,155.4 159.7,161.7 162.5,154.0 165.2,150.9 167.9,140.3 170.7,142.4 173.4,147.1 176.1,155.3 178.9,154.7 181.6,147.0 184.3,168.6 187.1,136.1 189.8,131.1 192.6,154.9 195.3,141.9 198.0,146.7 200.8,135.8 203.5,135.3 206.2,132.7 209.0,126.9 211.7,155.5 214.4,144.9 217.2,147.2 219.9,142.2 222.6,143.2 225.4,162.8 228.1,147.0 230.9,144.6 233.6,149.3 236.3,178.7 239.1,188.6 241.8,170.7 244.5,184.7 247.3,175.1 250.0,178.6 252.7,173.5 255.5,198.4 258.2,196.7 261.0,176.1 263.7,172.7 266.4,193.0 269.2,169.8 271.9,175.8 274.6,176.1 277.4,163.5 280.1,201.0 282.8,213.4 285.6,202.3 288.3,193.4 291.0,203.4 293.8,186.4 296.5,177.1 299.3,175.7 302.0,164.0 304.7,183.3 307.5,173.8 310.2,182.0 312.9,189.8 315.7,181.7 318.4,193.9 321.1,192.1 323.9,201.0 326.6,204.9 329.4,164.2 332.1,114.3 334.8,98.8 337.6,134.4 340.3,168.5 343.0,172.5 345.8,167.2 348.5,178.9 351.2,173.0 354.0,179.9 356.7,176.3 359.4,184.3 362.2,198.7 364.9,199.8 367.7,180.2 370.4,179.8 373.1,171.8 375.9,177.1 378.6,193.0 381.3,195.5 384.1,194.4 386.8,198.6 389.5,186.8 392.3,169.7 395.0,187.1 397.8,182.2 400.5,166.1 403.2,179.3 406.0,165.8 408.7,185.0 411.4,179.5 414.2,188.2 416.9,181.6 419.6,171.7 422.4,152.2 425.1,147.7 427.8,154.7 430.6,172.4 433.3,209.4 436.1,208.1 438.8,209.0 441.5,202.1 444.3,194.1 447.0,178.6 449.7,196.5 452.5,178.7 455.2,165.0 457.9,190.8 460.7,182.3 463.4,165.9 466.2,153.6 468.9,152.4 471.6,174.1 474.4,193.5 477.1,198.0 479.8,197.5 482.6,165.4 485.3,160.0 488.0,164.2 490.8,143.1 493.5,163.6 496.2,174.6 499.0,181.6 501.7,178.9 504.5,168.5 507.2,169.8 509.9,155.8 512.7,164.8 515.4,187.1 518.1,176.1 520.9,148.3 523.6,183.8 526.3,148.0 529.1,185.8 531.8,177.9 534.6,161.5 537.3,170.2 540.0,196.1 542.8,175.8 545.5,188.7 548.2,189.3 551.0,177.5 553.7,166.2 556.4,172.1 559.2,155.8 561.9,172.1 564.6,134.8 567.4,151.4 570.1,178.1 572.9,182.0 575.6,194.7 578.3,191.6 581.1,192.7 583.8,183.9 586.5,199.9 589.3,180.4 592.0,171.5 594.7,163.9 597.5,167.0 600.2,179.4 603.0,167.1 605.7,156.5 608.4,142.7 611.2,167.1 613.9,175.4 616.6,174.9 619.4,156.2 622.1,160.0 624.8,148.9 627.6,154.0 630.3,155.0 633.0,132.4 635.8,137.7 638.5,150.0 641.3,136.9 644.0,140.4 646.7,120.1 649.5,127.6 652.2,127.5 654.9,144.3 657.7,141.9 660.4,110.6 663.1,97.6 665.9,133.2 668.6,152.1 671.4,132.2 674.1,141.9 676.8,153.8 679.6,149.4 682.3,131.7 685.0,143.5 687.8,129.1 690.5,153.5 693.2,143.3 696.0,141.8 698.7,149.7 701.4,148.3 704.2,136.8 706.9,118.9 709.7,150.7 712.4,144.2 715.1,154.5 717.9,148.5 720.6,139.6 723.3,173.0 726.1,141.4 728.8,149.8 731.5,153.2 734.3,116.6 737.0,157.9 739.8,144.8 742.5,152.1 745.2,158.2 748.0,142.3 750.7,156.5 753.4,141.8 756.2,154.6 758.9,140.8 761.6,157.7 764.4,164.8 767.1,137.9 769.8,152.2 772.6,139.9 775.3,143.7 778.1,149.4 780.8,166.1 783.5,189.2 786.3,182.0 789.0,160.9" fill="none" stroke="#f00" stroke-width="2.6" stroke-linejoin="round"/>
<polyline points="105.0,232.5 107.7,225.0 110.5,197.4 113.2,224.0 115.9,191.2 118.7,200.0 121.4,197.9 124.2,176.6 126.9,186.3 129.6,182.5 132.4,222.8 135.1,207.3 137.8,201.9 140.6,198.9 143.3,205.1 146.0,178.5 148.8,164.9 151.5,155.4 154.2,152.3 157.0,167.8 159.7,168.1 162.5,172.2 165.2,186.8 167.9,190.6 170.7,214.0 173.4,203.4 176.1,226.9 178.9,204.1 181.6,180.7 184.3,184.7 187.1,178.2 189.8,183.1 192.6,152.5 195.3,160.0 198.0,167.1 200.8,173.6 203.5,170.6 206.2,165.9 209.0,162.5 211.7,145.3 214.4,164.6 217.2,188.2 219.9,180.2 222.6,176.8 225.4,169.2 228.1,194.4 230.9,185.4 233.6,183.1 236.3,176.5 239.1,198.5 241.8,166.5 244.5,165.8 247.3,164.1 250.0,167.5 252.7,186.3 255.5,197.2 258.2,185.5 261.0,197.4 263.7,186.3 266.4,195.4 269.2,229.1 271.9,214.4 274.6,200.3 277.4,179.6 280.1,138.6 282.8,194.6 285.6,178.8 288.3,169.7 291.0,158.0 293.8,155.1 296.5,134.9 299.3,136.6 302.0,138.1 304.7,149.1 307.5,181.9 310.2,158.2 312.9,161.0 315.7,133.7 318.4,152.4 321.1,148.0 323.9,140.9 326.6,124.4 329.4,158.9 332.1,166.4 334.8,179.6 337.6,165.0 340.3,174.2 343.0,187.3 345.8,181.3 348.5,188.4 351.2,153.9 354.0,148.1 356.7,152.3 359.4,162.6 362.2,140.7 364.9,141.4 367.7,138.0 370.4,154.5 373.1,138.0 375.9,146.9 378.6,167.8 381.3,148.6 384.1,176.4 386.8,186.5 389.5,182.0 392.3,150.2 395.0,168.3 397.8,164.2 400.5,172.5 403.2,167.2 406.0,165.3 408.7,166.8 411.4,197.3 414.2,169.9 416.9,158.7 419.6,129.4 422.4,135.0 425.1,142.1 427.8,173.5 430.6,163.5 433.3,199.6 436.1,207.0 438.8,211.5 441.5,222.3 444.3,179.0 447.0,133.3 449.7,141.3 452.5,152.5 455.2,145.4 457.9,137.1 460.7,154.2 463.4,125.2 466.2,129.7 468.9,148.0 471.6,148.5 474.4,164.7 477.1,161.9 479.8,161.9 482.6,162.4 485.3,173.5 488.0,169.2 490.8,171.4 493.5,166.8 496.2,201.9 499.0,187.6 501.7,175.0 504.5,187.8 507.2,183.8 509.9,178.6 512.7,150.5 515.4,166.5 518.1,166.0 520.9,145.4 523.6,152.1 526.3,160.9 529.1,158.2 531.8,144.3 534.6,141.2 537.3,150.4 540.0,162.7 542.8,174.0 545.5,176.9 548.2,146.7 551.0,173.7 553.7,152.2 556.4,169.9 559.2,178.2 561.9,168.6 564.6,159.3 567.4,187.6 570.1,178.9 572.9,197.5 575.6,201.8 578.3,169.9 581.1,186.1 583.8,177.5 586.5,165.7 589.3,185.8 592.0,195.1 594.7,194.6 597.5,191.0 600.2,164.5 603.0,180.2 605.7,190.3 608.4,166.5 611.2,158.3 613.9,168.0 616.6,164.4 619.4,185.9 622.1,162.2 624.8,140.5 627.6,140.9 630.3,155.9 633.0,163.1 635.8,151.7 638.5,159.3 641.3,154.0 644.0,137.2 646.7,144.4 649.5,130.4 652.2,146.4 654.9,132.1 657.7,134.6 660.4,137.5 663.1,124.5 665.9,118.9 668.6,125.0 671.4,130.6 674.1,132.2 676.8,158.6 679.6,168.7 682.3,144.9 685.0,137.4 687.8,152.2 690.5,146.4 693.2,148.4 696.0,134.7 698.7,130.5 701.4,135.8 704.2,118.0 706.9,129.9 709.7,111.3 712.4,150.1 715.1,129.0 717.9,123.2 720.6,133.5 723.3,143.1 726.1,138.2 728.8,155.0 731.5,158.8 734.3,141.9 737.0,170.4 739.8,153.2 742.5,165.4 745.2,151.9 748.0,163.6 750.7,146.0 753.4,158.3 756.2,143.5 758.9,156.2 761.6,151.5 764.4,145.9 767.1,144.3 769.8,136.9 772.6,144.0 775.3,174.2 778.1,160.4 780.8,156.4 783.5,144.6 786.3,150.1 789.0,165.0" fill="none" stroke="#f00" stroke-width="2.6" stroke-linejoin="round"/>
<polyline points="105.0,221.2 107.7,221.3 110.5,212.7 113.2,212.2 115.9,191.6 118.7,180.2 121.4,174.1 124.2,169.3 126.9,172.7 129.6,178.1 132.4,171.5 135.1,181.7 137.8,177.6 140.6,192.5 143.3,189.9 146.0,147.5 148.8,159.8 151.5,177.8 154.2,187.5 157.0,183.0 159.7,188.9 162.5,172.2 165.2,178.3 167.9,183.5 170.7,173.3 173.4,170.0 176.1,161.0 178.9,175.7 181.6,141.1 184.3,128.8 187.1,130.4 189.8,125.7 192.6,148.6 195.3,169.5 198.0,182.9 200.8,184.3 203.5,178.4 206.2,167.6 209.0,175.6 211.7,187.8 214.4,192.7 217.2,179.5 219.9,177.9 222.6,180.0 225.4,150.4 228.1,139.4 230.9,149.7 233.6,171.3 236.3,155.0 239.1,156.6 241.8,177.1 244.5,148.2 247.3,144.4 250.0,176.6 252.7,154.5 255.5,189.5 258.2,148.3 261.0,167.2 263.7,157.7 266.4,197.5 269.2,164.8 271.9,172.7 274.6,153.9 277.4,156.4 280.1,139.6 282.8,149.0 285.6,159.8 288.3,157.2 291.0,167.7 293.8,195.6 296.5,182.0 299.3,181.1 302.0,158.2 304.7,162.8 307.5,151.8 310.2,178.6 312.9,173.7 315.7,217.7 318.4,194.9 321.1,190.5 323.9,175.1 326.6,169.1 329.4,155.6 332.1,155.3 334.8,170.8 337.6,164.4 340.3,165.4 343.0,166.3 345.8,175.1 348.5,189.5 351.2,185.9 354.0,183.6 356.7,175.4 359.4,149.7 362.2,127.8 364.9,143.7 367.7,141.4 370.4,167.1 373.1,171.1 375.9,185.1 378.6,175.4 381.3,169.3 384.1,142.7 386.8,119.9 389.5,161.3 392.3,142.3 395.0,146.2 397.8,129.4 400.5,142.1 403.2,144.4 406.0,133.0 408.7,139.4 411.4,140.5 414.2,112.9 416.9,128.6 419.6,134.1 422.4,109.2 425.1,107.2 427.8,118.4 430.6,135.8 433.3,159.9 436.1,157.5 438.8,163.9 441.5,142.5 444.3,146.2 447.0,159.7 449.7,152.5 452.5,155.1 455.2,155.9 457.9,157.1 460.7,173.8 463.4,179.1 466.2,147.0 468.9,154.1 471.6,158.9 474.4,146.7 477.1,151.6 479.8,143.1 482.6,157.6 485.3,147.5 488.0,156.6 490.8,135.7 493.5,135.7 496.2,111.9 499.0,121.3 501.7,141.9 504.5,125.0 507.2,138.8 509.9,163.5 512.7,161.8 515.4,165.2 518.1,148.1 520.9,160.1 523.6,137.9 526.3,149.5 529.1,158.2 531.8,141.3 534.6,145.8 537.3,137.0 540.0,161.3 542.8,159.2 545.5,145.2 548.2,160.3 551.0,177.7 553.7,202.9 556.4,212.8 559.2,169.7 561.9,145.7 564.6,131.6 567.4,132.1 570.1,134.4 572.9,127.6 575.6,125.7 578.3,117.4 581.1,117.3 583.8,114.4 586.5,118.1 589.3,113.8 592.0,112.3 594.7,116.7 597.5,138.1 600.2,134.0 603.0,156.5 605.7,154.5 608.4,152.9 611.2,159.4 613.9,131.5 616.6,152.3 619.4,160.7 622.1,169.0 624.8,166.7 627.6,149.5 630.3,154.6 633.0,133.1 635.8,131.5 638.5,148.6 641.3,124.6 644.0,113.0 646.7,125.4 649.5,135.0 652.2,126.7 654.9,122.2 657.7,142.7 660.4,146.3 663.1,162.9 665.9,137.1 668.6,130.3 671.4,120.3 674.1,134.8 676.8,145.2 679.6,152.9 682.3,146.0 685.0,164.4 687.8,158.9 690.5,131.1 693.2,147.0 696.0,163.4 698.7,122.0 701.4,131.8 704.2,135.0 706.9,132.3 709.7,156.0 712.4,145.0 715.1,162.5 717.9,166.0 720.6,174.2 723.3,179.2 726.1,172.8 728.8,184.6 731.5,179.4 734.3,166.9 737.0,167.3 739.8,141.2 742.5,153.8 745.2,166.7 748.0,175.3 750.7,152.8 753.4,151.8 756.2,162.5 758.9,159.9 761.6,177.6 764.4,169.4 767.1,178.0 769.8,153.7 772.6,167.3 775.3,159.3 778.1,147.4 780.8,156.7 783.5,165.8 786.3,159.3 789.0,168.1" fill="none" stroke="#f00" stroke-width="2.6" stroke-linejoin="round"/>
<polyline points="105.0,243.7 107.7,232.8 110.5,233.3 113.2,195.3 115.9,189.6 118.7,204.5 121.4,186.3 124.2,198.8 126.9,210.4 129.6,188.0 132.4,165.9 135.1,168.3 137.8,175.1 140.6,169.0 143.3,171.6 146.0,180.4 148.8,181.2 151.5,195.7 154.2,175.9 157.0,151.2 159.7,147.6 162.5,134.8 165.2,144.1 167.9,162.4 170.7,159.0 173.4,178.3 176.1,161.3 178.9,164.8 181.6,178.9 184.3,178.9 187.1,175.5 189.8,172.5 192.6,158.5 195.3,163.5 198.0,150.2 200.8,166.7 203.5,154.3 206.2,175.5 209.0,166.7 211.7,161.9 214.4,148.8 217.2,168.7 219.9,201.7 222.6,169.3 225.4,183.0 228.1,180.8 230.9,178.0 233.6,147.9 236.3,175.6 239.1,181.8 241.8,197.1 244.5,192.8 247.3,167.4 250.0,180.9 252.7,179.1 255.5,178.9 258.2,171.1 261.0,161.9 263.7,186.8 266.4,175.2 269.2,174.3 271.9,169.3 274.6,180.9 277.4,190.0 280.1,199.3 282.8,164.4 285.6,172.0 288.3,194.9 291.0,189.1 293.8,185.6 296.5,154.3 299.3,142.1 302.0,135.3 304.7,173.7 307.5,166.3 310.2,161.9 312.9,166.3 315.7,145.1 318.4,162.2 321.1,190.4 323.9,178.9 326.6,170.9 329.4,177.4 332.1,182.2 334.8,197.2 337.6,192.2 340.3,193.7 343.0,161.9 345.8,178.4 348.5,172.7 351.2,186.1 354.0,171.3 356.7,171.7 359.4,180.0 362.2,178.6 364.9,168.9 367.7,189.2 370.4,215.1 373.1,187.8 375.9,167.4 378.6,159.6 381.3,147.9 384.1,164.5 386.8,179.0 389.5,182.1 392.3,170.0 395.0,164.4 397.8,172.7 400.5,157.7 403.2,170.8 406.0,139.8 408.7,144.6 411.4,138.8 414.2,154.0 416.9,169.3 419.6,172.2 422.4,158.5 425.1,143.3 427.8,145.9 430.6,153.0 433.3,120.0 436.1,116.1 438.8,126.8 441.5,136.0 444.3,142.0 447.0,154.1 449.7,161.1 452.5,174.3 455.2,162.9 457.9,156.3 460.7,156.4 463.4,167.7 466.2,166.6 468.9,171.2 471.6,156.0 474.4,154.5 477.1,163.1 479.8,157.8 482.6,171.4 485.3,163.9 488.0,152.5 490.8,170.3 493.5,151.2 496.2,171.6 499.0,149.3 501.7,164.9 504.5,149.0 507.2,165.4 509.9,155.3 512.7,165.6 515.4,148.8 518.1,166.7 520.9,148.3 523.6,170.6 526.3,166.8 529.1,173.0 531.8,182.1 534.6,175.9 537.3,171.0 540.0,178.2 542.8,180.1 545.5,156.1 548.2,160.0 551.0,167.9 553.7,158.7 556.4,172.7 559.2,173.0 561.9,164.9 564.6,168.8 567.4,164.8 570.1,155.1 572.9,130.4 575.6,167.1 578.3,165.9 581.1,171.2 583.8,152.8 586.5,143.3 589.3,145.3 592.0,130.5 594.7,147.6 597.5,135.7 600.2,150.8 603.0,159.2 605.7,184.4 608.4,179.5 611.2,150.6 613.9,154.5 616.6,151.9 619.4,137.4 622.1,149.6 624.8,122.1 627.6,152.4 630.3,134.9 633.0,140.5 635.8,119.7 638.5,128.5 641.3,134.8 644.0,171.7 646.7,139.5 649.5,144.5 652.2,141.0 654.9,127.8 657.7,121.3 660.4,128.5 663.1,159.3 665.9,192.5 668.6,208.8 671.4,192.6 674.1,172.4 676.8,145.6 679.6,142.6 682.3,146.3 685.0,157.1 687.8,117.9 690.5,127.5 693.2,139.1 696.0,142.1 698.7,176.2 701.4,167.2 704.2,161.8 706.9,147.1 709.7,157.0 712.4,168.0 715.1,170.5 717.9,161.8 720.6,146.7 723.3,167.5 726.1,134.1 728.8,148.9 731.5,143.6 734.3,118.6 737.0,132.9 739.8,140.0 742.5,133.5 745.2,138.7 748.0,129.6 750.7,142.8 753.4,154.5 756.2,143.6 758.9,169.8 761.6,173.0 764.4,154.0 767.1,149.2 769.8,157.2 772.6,153.2 775.3,153.5 778.1,160.4 780.8,158.9 783.5,141.5 786.3,151.2 789.0,166.4" fill="none" stroke="#f00" stroke-width="2.6" stroke-linejoin="round"/>
<polyline points="105.0,266.2 107.7,260.6 110.5,242.4 113.2,227.7 115.9,186.1 118.7,180.0 121.4,190.6 124.2,198.2 126.9,167.1 129.6,167.8 132.4,175.9 135.1,164.9 137.8,202.4 140.6,180.8 143.3,188.6 146.0,164.2 148.8,180.6 151.5,185.1 154.2,194.0 157.0,189.6 159.7,170.0 162.5,194.7 165.2,160.7 167.9,184.9 170.7,166.9 173.4,178.5 176.1,181.9 178.9,192.9 181.6,189.1 184.3,164.9 187.1,163.0 189.8,155.2 192.6,171.1 195.3,175.2 198.0,174.4 200.8,181.5 203.5,171.3 206.2,178.3 209.0,157.7 211.7,162.8 214.4,163.3 217.2,164.2 219.9,139.9 222.6,175.3 225.4,160.2 228.1,136.8 230.9,141.4 233.6,153.5 236.3,150.4 239.1,158.6 241.8,147.5 244.5,155.4 247.3,157.2 250.0,143.0 252.7,126.7 255.5,125.9 258.2,153.8 261.0,152.8 263.7,154.7 266.4,152.7 269.2,172.7 271.9,165.3 274.6,149.0 277.4,161.1 280.1,157.1 282.8,165.4 285.6,141.8 288.3,133.0 291.0,124.0 293.8,152.2 296.5,152.4 299.3,169.1 302.0,162.1 304.7,152.4 307.5,153.5 310.2,164.6 312.9,179.1 315.7,174.5 318.4,166.6 321.1,138.6 323.9,162.7 326.6,162.0 329.4,171.6 332.1,157.4 334.8,153.2 337.6,166.2 340.3,174.6 343.0,158.1 345.8,155.2 348.5,165.5 351.2,155.9 354.0,149.4 356.7,170.5 359.4,169.9 362.2,157.9 364.9,170.2 367.7,170.0 370.4,151.2 373.1,152.9 375.9,128.7 378.6,123.4 381.3,146.1 384.1,151.8 386.8,151.4 389.5,156.1 392.3,160.3 395.0,145.2 397.8,160.3 400.5,179.0 403.2,169.5 406.0,178.2 408.7,176.5 411.4,143.3 414.2,157.8 416.9,148.6 419.6,154.8 422.4,157.8 425.1,163.7 427.8,157.4 430.6,149.2 433.3,155.2 436.1,169.9 438.8,167.4 441.5,144.2 444.3,169.5 447.0,173.1 449.7,145.1 452.5,143.4 455.2,142.3 457.9,151.4 460.7,178.3 463.4,158.6 466.2,173.8 468.9,164.5 471.6,163.2 474.4,175.4 477.1,169.7 479.8,156.3 482.6,162.1 485.3,129.6 488.0,149.8 490.8,137.9 493.5,125.3 496.2,136.8 499.0,114.7 501.7,147.6 504.5,139.2 507.2,154.5 509.9,159.5 512.7,159.9 515.4,184.8 518.1,179.2 520.9,166.0 523.6,157.3 526.3,143.3 529.1,145.6 531.8,154.7 534.6,165.6 537.3,164.8 540.0,163.7 542.8,151.7 545.5,173.1 548.2,176.3 551.0,171.5 553.7,151.7 556.4,154.4 559.2,160.2 561.9,163.6 564.6,169.9 567.4,158.4 570.1,187.6 572.9,196.0 575.6,166.8 578.3,189.0 581.1,170.7 583.8,179.1 586.5,203.0 589.3,214.7 592.0,207.9 594.7,204.9 597.5,218.5 600.2,201.1 603.0,181.8 605.7,170.4 608.4,182.5 611.2,179.4 613.9,159.6 616.6,163.3 619.4,161.3 622.1,182.6 624.8,153.5 627.6,161.9 630.3,144.3 633.0,146.5 635.8,154.4 638.5,167.4 641.3,164.2 644.0,149.1 646.7,129.6 649.5,146.4 652.2,152.1 654.9,152.0 657.7,146.8 660.4,144.8 663.1,136.7 665.9,150.9 668.6,148.3 671.4,183.4 674.1,175.2 676.8,175.4 679.6,152.6 682.3,145.5 685.0,168.7 687.8,164.0 690.5,176.8 693.2,176.7 696.0,162.5 698.7,168.8 701.4,165.4 704.2,175.0 706.9,158.1 709.7,162.7 712.4,160.7 715.1,152.4 717.9,136.7 720.6,122.4 723.3,154.8 726.1,159.1 728.8,166.7 731.5,147.6 734.3,155.0 737.0,153.6 739.8,178.4 742.5,164.9 745.2,176.0 748.0,188.3 750.7,171.1 753.4,155.7 756.2,140.5 758.9,159.6 761.6,153.7 764.4,158.1 767.1,170.7 769.8,152.7 772.6,129.1 775.3,94.8 778.1,81.4 780.8,95.7 783.5,123.5 786.3,127.7 789.0,161.8" fill="none" stroke="#f00" stroke-width="2.6" stroke-linejoin="round"/>
<polyline points="105.0,145.3 107.7,137.9 110.5,143.9 113.2,138.0 115.9,139.4 118.7,149.4 121.4,151.3 124.2,146.8 126.9,155.6 129.6,141.0 132.4,157.1 135.1,146.7 137.8,143.7 140.6,140.3 143.3,132.0 146.0,122.5 148.8,121.1 151.5,142.2 154.2,137.7 157.0,146.7 159.7,137.8 162.5,136.7 165.2,143.4 167.9,142.3 170.7,138.3 173.4,143.2 176.1,136.1 178.9,145.0 181.6,130.1 184.3,133.0 187.1,123.4 189.8,121.9 192.6,131.5 195.3,141.1 198.0,125.8 200.8,128.5 203.5,113.8 206.2,119.9 209.0,113.2 211.7,118.1 214.4,125.4 217.2,114.2 219.9,97.3 222.6,120.4 225.4,116.6 228.1,122.1 230.9,109.5 233.6,107.1 236.3,101.0 239.1,95.2 241.8,97.7 244.5,112.6 247.3,126.4 250.0,119.1 252.7,113.2 255.5,105.8 258.2,98.4 261.0,107.4 263.7,114.5 266.4,108.0 269.2,110.1 271.9,109.5 274.6,116.6 277.4,112.1 280.1,118.0 282.8,126.2 285.6,120.3 288.3,121.0 291.0,119.1 293.8,129.2 296.5,135.1 299.3,132.6 302.0,117.0 304.7,118.0 307.5,125.5 310.2,123.2 312.9,122.5 315.7,113.2 318.4,118.5 321.1,106.8 323.9,108.1 326.6,123.2 329.4,107.3 332.1,100.8 334.8,93.7 337.6,105.3 340.3,104.7 343.0,104.3 345.8,117.5 348.5,116.8 351.2,121.6 354.0,136.0 356.7,127.4 359.4,135.5 362.2,140.1 364.9,141.6 367.7,134.7 370.4,129.9 373.1,139.8 375.9,140.5 378.6,151.8 381.3,147.4 384.1,140.2 386.8,142.5 389.5,140.9 392.3,148.2 395.0,149.9 397.8,146.1 400.5,140.5 403.2,140.3 406.0,158.1 408.7,157.0 411.4,145.1 414.2,144.0 416.9,137.6 419.6,147.7 422.4,154.8 425.1,147.3 427.8,154.1 430.6,147.8 433.3,146.2 436.1,146.1 438.8,141.9 441.5,139.5 444.3,147.2 447.0,155.8 449.7,147.1 452.5,151.2 455.2,163.5 457.9,152.7 460.7,160.0 463.4,148.9 466.2,144.3 468.9,158.0 471.6,148.0 474.4,150.0 477.1,152.6 479.8,145.3 482.6,162.0 485.3,162.3 488.0,147.6 490.8,155.7 493.5,162.7 496.2,160.9 499.0,156.3 501.7,151.6 504.5,152.2 507.2,150.1 509.9,154.8 512.7,156.6 515.4,155.1 518.1,166.9 520.9,163.4 523.6,155.8 526.3,159.5 529.1,157.2 531.8,151.9 534.6,155.8 537.3,158.9 540.0,163.7 542.8,163.8 545.5,157.3 548.2,149.4 551.0,165.7 553.7,153.4 556.4,155.8 559.2,160.8 561.9,166.5 564.6,162.4 567.4,150.4 570.1,161.2 572.9,157.6 575.6,159.9 578.3,160.5 581.1,160.7 583.8,158.6 586.5,157.6 589.3,156.3 592.0,167.1 594.7,176.6 597.5,179.4 600.2,188.9 603.0,173.2 605.7,177.7 608.4,167.4 611.2,162.2 613.9,163.9 616.6,164.0 619.4,157.9 622.1,156.6 624.8,163.7 627.6,162.4 630.3,159.0 633.0,151.3 635.8,146.7 638.5,148.5 641.3,148.9 644.0,150.7 646.7,161.0 649.5,160.7 652.2,158.2 654.9,149.3 657.7,146.8 660.4,157.3 663.1,141.3 665.9,143.2 668.6,143.7 671.4,144.1 674.1,146.5 676.8,156.8 679.6,153.5 682.3,151.6 685.0,137.6 687.8,138.6 690.5,139.2 693.2,118.6 696.0,152.4 698.7,143.9 701.4,127.2 704.2,136.7 706.9,149.8 709.7,140.6 712.4,142.0 715.1,136.8 717.9,138.6 720.6,150.9 723.3,153.9 726.1,153.1 728.8,154.0 731.5,161.5 734.3,154.3 737.0,154.1 739.8,157.9 742.5,166.0 745.2,151.7 748.0,157.5 750.7,162.1 753.4,152.2 756.2,154.6 758.9,152.4 761.6,154.8 764.4,165.4 767.1,158.8 769.8,161.0 772.6,157.0 775.3,163.8 778.1,155.9 780.8,153.8 783.5,154.8 786.3,150.9 789.0,163.0" fill="none" stroke="#00f" stroke-width="2.6" stroke-linejoin="round"/>
</g>
<path d="M105.0,283.0 v-8.3 M105.0,70.0 v8.3" stroke="#000" stroke-width="1.05"/>
<path d="M276.0,283.0 v-8.3 M276.0,70.0 v8.3" stroke="#000" stroke-width="1.05"/>
<path d="M447.0,283.0 v-8.3 M447.0,70.0 v8.3" stroke="#000" stroke-width="1.05"/>
<path d="M618.0,283.0 v-8.3 M618.0,70.0 v8.3" stroke="#000" stroke-width="1.05"/>
<path d="M789.0,283.0 v-8.3 M789.0,70.0 v8.3" stroke="#000" stroke-width="1.05"/>
<path d="M105.0,283.0 h8.3 M789.0,283.0 h-8.3" stroke="#000" stroke-width="1.05"/>
<path d="M105.0,254.9 h8.3 M789.0,254.9 h-8.3" stroke="#000" stroke-width="1.05"/>
<path d="M105.0,226.9 h8.3 M789.0,226.9 h-8.3" stroke="#000" stroke-width="1.05"/>
<path d="M105.0,198.8 h8.3 M789.0,198.8 h-8.3" stroke="#000" stroke-width="1.05"/>
<path d="M105.0,170.7 h8.3 M789.0,170.7 h-8.3" stroke="#000" stroke-width="1.05"/>
<path d="M105.0,142.7 h8.3 M789.0,142.7 h-8.3" stroke="#000" stroke-width="1.05"/>
<path d="M105.0,114.6 h8.3 M789.0,114.6 h-8.3" stroke="#000" stroke-width="1.05"/>
<path d="M105.0,86.5 h8.3 M789.0,86.5 h-8.3" stroke="#000" stroke-width="1.05"/>
<rect x="105.0" y="70.0" width="684.0" height="213.0" fill="none" stroke="#000" stroke-width="2.1"/>
<text transform="translate(81.98,289.55) scale(0.9298,1)" font-size="25.42" fill="#000">0</text>
<text transform="translate(81.95,261.47) scale(0.9244,1)" font-size="25.79" fill="#000">5</text>
<text transform="translate(64.93,233.41) scale(1.0731,1)" font-size="25.42" fill="#000">10</text>
<text transform="translate(64.92,205.33) scale(1.0611,1)" font-size="25.79" fill="#000">15</text>
<text transform="translate(65.67,177.27) scale(1.0458,1)" font-size="25.42" fill="#000">20</text>
<text transform="translate(65.67,149.20) scale(1.0489,1)" font-size="25.42" fill="#000">25</text>
<text transform="translate(66.00,121.13) scale(1.0337,1)" font-size="25.42" fill="#000">30</text>
<text transform="translate(66.00,93.06) scale(1.0367,1)" font-size="25.42" fill="#000">35</text>
<text transform="translate(92.49,322.57) scale(1.0300,1)" font-size="42.66" fill="#000">0</text>
<text transform="translate(250.80,322.57) scale(1.0530,1)" font-size="42.66" fill="#000">50</text>
<text transform="translate(408.65,322.57) scale(1.0643,1)" font-size="42.66" fill="#000">100</text>
<text transform="translate(580.10,322.57) scale(1.0793,1)" font-size="42.66" fill="#000">150</text>
<text transform="translate(750.29,322.57) scale(1.0853,1)" font-size="42.66" fill="#000">200</text>
<text transform="translate(47.93,58.60) scale(1.1052,1)" font-size="33.14" fill="#000">Angle between the First Principal Axis and Z-Axis</text>
<text transform="translate(369.49,366.60) scale(1.0580,1)" font-size="34.59" fill="#000">Time (ns)</text>
<text transform="translate(46.60,234.39) rotate(-90) scale(1.0369,1)" font-size="43.17">Angle</text>
<text transform="translate(17.96,25.71) scale(1.0022,1)" font-size="39.05" font-weight="bold" fill="#000">a</text>
<text transform="translate(15.84,361.00) scale(1.1249,1)" font-size="39.86" font-weight="bold" fill="#000">b</text>
<text transform="translate(17.71,684.01) scale(0.9905,1)" font-size="38.69" font-weight="bold" fill="#000">c</text>
<text transform="translate(16.93,998.70) scale(1.1370,1)" font-size="40.14" font-weight="bold" fill="#000">d</text>
<clipPath id="cp0"><rect x="104.7" y="388.8" width="684.3" height="212.99999999999994"/></clipPath>
<g clip-path="url(#cp0)">
<rect x="141.8" y="600.9" width="37.4" height="0.9" fill="#90EE90" stroke="#000" stroke-width="2.1"/>
<rect x="179.1" y="599.2" width="37.4" height="2.6" fill="#90EE90" stroke="#000" stroke-width="2.1"/>
<rect x="216.5" y="600.1" width="37.4" height="1.7" fill="#90EE90" stroke="#000" stroke-width="2.1"/>
<rect x="253.9" y="600.1" width="37.4" height="1.7" fill="#90EE90" stroke="#000" stroke-width="2.1"/>
<rect x="291.2" y="598.4" width="37.4" height="3.4" fill="#90EE90" stroke="#000" stroke-width="2.1"/>
<rect x="328.6" y="595.8" width="37.4" height="6.0" fill="#90EE90" stroke="#000" stroke-width="2.1"/>
<rect x="365.9" y="581.4" width="37.4" height="20.4" fill="#90EE90" stroke="#000" stroke-width="2.1"/>
<rect x="403.3" y="543.9" width="37.4" height="57.9" fill="#90EE90" stroke="#000" stroke-width="2.1"/>
<rect x="440.7" y="504.7" width="37.4" height="97.1" fill="#90EE90" stroke="#000" stroke-width="2.1"/>
<rect x="478.0" y="442.5" width="37.4" height="159.3" fill="#90EE90" stroke="#000" stroke-width="2.1"/>
<rect x="515.4" y="420.3" width="37.4" height="181.5" fill="#90EE90" stroke="#000" stroke-width="2.1"/>
<rect x="552.7" y="420.3" width="37.4" height="181.5" fill="#90EE90" stroke="#000" stroke-width="2.1"/>
<rect x="590.1" y="508.9" width="37.4" height="92.9" fill="#90EE90" stroke="#000" stroke-width="2.1"/>
<rect x="627.5" y="567.7" width="37.4" height="34.1" fill="#90EE90" stroke="#000" stroke-width="2.1"/>
<rect x="664.8" y="595.0" width="37.4" height="6.8" fill="#90EE90" stroke="#000" stroke-width="2.1"/>
<polyline points="104.4,601.8 107.6,601.8 110.7,601.8 113.8,601.8 116.9,601.8 120.1,601.8 123.2,601.8 126.3,601.8 129.5,601.8 132.6,601.8 135.7,601.8 138.9,601.8 142.0,601.8 145.1,601.8 148.2,601.8 151.4,601.8 154.5,601.8 157.6,601.8 160.8,601.8 163.9,601.8 167.0,601.8 170.2,601.8 173.3,601.8 176.4,601.8 179.5,601.8 182.7,601.8 185.8,601.8 188.9,601.8 192.1,601.8 195.2,601.8 198.3,601.8 201.5,601.8 204.6,601.8 207.7,601.8 210.9,601.8 214.0,601.8 217.1,601.8 220.2,601.8 223.4,601.8 226.5,601.8 229.6,601.8 232.8,601.8 235.9,601.8 239.0,601.8 242.2,601.8 245.3,601.8 248.4,601.8 251.5,601.8 254.7,601.8 257.8,601.8 260.9,601.8 264.1,601.8 267.2,601.8 270.3,601.7 273.5,601.7 276.6,601.7 279.7,601.7 282.9,601.7 286.0,601.7 289.1,601.6 292.2,601.6 295.4,601.6 298.5,601.5 301.6,601.5 304.8,601.4 307.9,601.3 311.0,601.2 314.2,601.1 317.3,601.0 320.4,600.9 323.5,600.7 326.7,600.6 329.8,600.3 332.9,600.1 336.1,599.8 339.2,599.5 342.3,599.2 345.5,598.8 348.6,598.4 351.7,597.9 354.9,597.3 358.0,596.7 361.1,596.0 364.2,595.2 367.4,594.4 370.5,593.4 373.6,592.4 376.8,591.2 379.9,589.9 383.0,588.5 386.2,587.0 389.3,585.3 392.4,583.5 395.5,581.5 398.7,579.4 401.8,577.1 404.9,574.6 408.1,571.9 411.2,569.1 414.3,566.0 417.5,562.8 420.6,559.4 423.7,555.8 426.9,551.9 430.0,547.9 433.1,543.7 436.2,539.3 439.4,534.8 442.5,530.1 445.6,525.2 448.8,520.1 451.9,515.0 455.0,509.7 458.2,504.3 461.3,498.9 464.4,493.3 467.5,487.8 470.7,482.2 473.8,476.7 476.9,471.2 480.1,465.8 483.2,460.5 486.3,455.3 489.5,450.2 492.6,445.4 495.7,440.7 498.8,436.3 502.0,432.2 505.1,428.4 508.2,424.9 511.4,421.7 514.5,418.9 517.6,416.5 520.8,414.4 523.9,412.8 527.0,411.6 530.2,410.9 533.3,410.5 536.4,410.6 539.5,411.2 542.7,412.2 545.8,413.6 548.9,415.4 552.1,417.6 555.2,420.3 558.3,423.3 561.5,426.6 564.6,430.3 567.7,434.3 570.8,438.5 574.0,443.1 577.1,447.8 580.2,452.8 583.4,457.9 586.5,463.1 589.6,468.5 592.8,474.0 595.9,479.5 599.0,485.0 602.2,490.6 605.3,496.1 608.4,501.6 611.5,507.0 614.7,512.4 617.8,517.6 620.9,522.7 624.1,527.6 627.2,532.5 630.3,537.1 633.5,541.6 636.6,545.9 639.7,550.0 642.8,553.9 646.0,557.6 649.1,561.1 652.2,564.5 655.4,567.6 658.5,570.5 661.6,573.3 664.8,575.9 667.9,578.3 671.0,580.5 674.2,582.5 677.3,584.4 680.4,586.2 683.5,587.8 686.7,589.3 689.8,590.6 692.9,591.8 696.1,592.9 699.2,593.9 702.3,594.8 705.5,595.6 708.6,596.4 711.7,597.0 714.8,597.6 718.0,598.1 721.1,598.6 724.2,599.0 727.4,599.4 730.5,599.7 733.6,600.0 736.8,600.2 739.9,600.5 743.0,600.6 746.2,600.8 749.3,601.0 752.4,601.1 755.5,601.2 758.7,601.3 761.8,601.4 764.9,601.4 768.1,601.5 771.2,601.5 774.3,601.6 777.5,601.6 780.6,601.6 783.7,601.7 786.8,601.7 790.0,601.7" fill="none" stroke="#000" stroke-width="2.1"/>
</g>
<path d="M123.1,601.8 V388.8" stroke="#000" stroke-width="1.15" stroke-dasharray="2.08 6.25" fill="none"/>
<path d="M309.9,601.8 V388.8" stroke="#000" stroke-width="1.15" stroke-dasharray="2.08 6.25" fill="none"/>
<path d="M496.7,601.8 V388.8" stroke="#000" stroke-width="1.15" stroke-dasharray="2.08 6.25" fill="none"/>
<path d="M683.5,601.8 V388.8" stroke="#000" stroke-width="1.15" stroke-dasharray="2.08 6.25" fill="none"/>
<path d="M104.7,559.2 H789.0" stroke="#000" stroke-width="1.15" stroke-dasharray="2.08 6.25" fill="none"/>
<path d="M104.7,516.6 H789.0" stroke="#000" stroke-width="1.15" stroke-dasharray="2.08 6.25" fill="none"/>
<path d="M104.7,474.0 H789.0" stroke="#000" stroke-width="1.15" stroke-dasharray="2.08 6.25" fill="none"/>
<path d="M104.7,431.4 H789.0" stroke="#000" stroke-width="1.15" stroke-dasharray="2.08 6.25" fill="none"/>
<path d="M123.1,601.8 v-8.3 M123.1,388.8 v8.3" stroke="#000" stroke-width="1.05"/>
<path d="M309.9,601.8 v-8.3 M309.9,388.8 v8.3" stroke="#000" stroke-width="1.05"/>
<path d="M496.7,601.8 v-8.3 M496.7,388.8 v8.3" stroke="#000" stroke-width="1.05"/>
<path d="M683.5,601.8 v-8.3 M683.5,388.8 v8.3" stroke="#000" stroke-width="1.05"/>
<path d="M104.7,601.8 h8.3 M789.0,601.8 h-8.3" stroke="#000" stroke-width="1.05"/>
<text transform="translate(51.41,607.50) scale(1.1265,1)" font-size="20.34" fill="#000">0.00</text>
<path d="M104.7,559.2 h8.3 M789.0,559.2 h-8.3" stroke="#000" stroke-width="1.05"/>
<text transform="translate(51.40,564.90) scale(1.1283,1)" font-size="20.34" fill="#000">0.05</text>
<path d="M104.7,516.6 h8.3 M789.0,516.6 h-8.3" stroke="#000" stroke-width="1.05"/>
<text transform="translate(51.41,522.30) scale(1.1265,1)" font-size="20.34" fill="#000">0.10</text>
<path d="M104.7,474.0 h8.3 M789.0,474.0 h-8.3" stroke="#000" stroke-width="1.05"/>
<text transform="translate(51.40,479.70) scale(1.1283,1)" font-size="20.34" fill="#000">0.15</text>
<path d="M104.7,431.4 h8.3 M789.0,431.4 h-8.3" stroke="#000" stroke-width="1.05"/>
<text transform="translate(51.41,437.10) scale(1.1265,1)" font-size="20.34" fill="#000">0.20</text>
<path d="M104.7,388.8 h8.3 M789.0,388.8 h-8.3" stroke="#000" stroke-width="1.05"/>
<text transform="translate(51.40,394.50) scale(1.1283,1)" font-size="20.34" fill="#000">0.25</text>
<rect x="104.7" y="388.8" width="684.3" height="212.99999999999994" fill="none" stroke="#000" stroke-width="2.1"/>
<text transform="translate(110.50,641.57) scale(1.0663,1)" font-size="43.36" fill="#000">0</text>
<text transform="translate(284.75,641.57) scale(1.0455,1)" font-size="43.36" fill="#000">10</text>
<text transform="translate(470.48,641.57) scale(1.0686,1)" font-size="43.36" fill="#000">20</text>
<text transform="translate(659.08,641.57) scale(1.0450,1)" font-size="43.36" fill="#000">30</text>
<text transform="translate(325.43,684.50) scale(1.0930,1)" font-size="33.58" fill="#000">Angle (degree)</text>
<text transform="translate(36.90,607.76) rotate(-90) scale(1.0494,1)" font-size="43.75">Probability</text>
<rect x="118.0" y="401.6" width="259.3" height="107.9" fill="#fff" stroke="#000" stroke-width="2"/>
<rect x="128.4" y="447.8" width="52.7" height="18.5" fill="#90EE90" stroke="#000" stroke-width="2"/>
<text transform="translate(201.45,433.83) scale(1.0696,1)" font-size="26.55" fill="#000">CG_complex</text>
<text transform="translate(202.84,464.70) scale(1.0952,1)" font-size="27.33" fill="#000">Avg:21.40</text>
<text transform="translate(201.52,493.83) scale(1.1262,1)" font-size="26.55" fill="#000">Std: 3.931</text>
<clipPath id="cp1"><rect x="104.7" y="707.2" width="684.3" height="213.39999999999998"/></clipPath>
<g clip-path="url(#cp1)">
<rect x="365.9" y="919.2" width="37.4" height="1.4" fill="#87CEEB" stroke="#000" stroke-width="2.1"/>
<rect x="403.3" y="911.4" width="37.4" height="9.2" fill="#87CEEB" stroke="#000" stroke-width="2.1"/>
<rect x="440.7" y="908.5" width="37.4" height="12.1" fill="#87CEEB" stroke="#000" stroke-width="2.1"/>
<rect x="478.0" y="845.9" width="37.4" height="74.7" fill="#87CEEB" stroke="#000" stroke-width="2.1"/>
<rect x="515.4" y="734.2" width="37.4" height="186.4" fill="#87CEEB" stroke="#000" stroke-width="2.1"/>
<rect x="552.7" y="728.5" width="37.4" height="192.1" fill="#87CEEB" stroke="#000" stroke-width="2.1"/>
<rect x="590.1" y="803.9" width="37.4" height="116.7" fill="#87CEEB" stroke="#000" stroke-width="2.1"/>
<rect x="627.5" y="850.9" width="37.4" height="69.7" fill="#87CEEB" stroke="#000" stroke-width="2.1"/>
<rect x="664.8" y="877.9" width="37.4" height="42.7" fill="#87CEEB" stroke="#000" stroke-width="2.1"/>
<rect x="702.2" y="913.5" width="37.4" height="7.1" fill="#87CEEB" stroke="#000" stroke-width="2.1"/>
<polyline points="104.4,920.6 107.6,920.6 110.7,920.6 113.8,920.6 116.9,920.6 120.1,920.6 123.2,920.6 126.3,920.6 129.5,920.6 132.6,920.6 135.7,920.6 138.9,920.6 142.0,920.6 145.1,920.6 148.2,920.6 151.4,920.6 154.5,920.6 157.6,920.6 160.8,920.6 163.9,920.6 167.0,920.6 170.2,920.6 173.3,920.6 176.4,920.6 179.5,920.6 182.7,920.6 185.8,920.6 188.9,920.6 192.1,920.6 195.2,920.6 198.3,920.6 201.5,920.6 204.6,920.6 207.7,920.6 210.9,920.6 214.0,920.6 217.1,920.6 220.2,920.6 223.4,920.6 226.5,920.6 229.6,920.6 232.8,920.6 235.9,920.6 239.0,920.6 242.2,920.6 245.3,920.6 248.4,920.6 251.5,920.6 254.7,920.6 257.8,920.6 260.9,920.6 264.1,920.6 267.2,920.6 270.3,920.6 273.5,920.6 276.6,920.6 279.7,920.6 282.9,920.6 286.0,920.6 289.1,920.6 292.2,920.6 295.4,920.6 298.5,920.6 301.6,920.6 304.8,920.6 307.9,920.6 311.0,920.6 314.2,920.6 317.3,920.6 320.4,920.6 323.5,920.6 326.7,920.6 329.8,920.6 332.9,920.6 336.1,920.6 339.2,920.6 342.3,920.6 345.5,920.5 348.6,920.5 351.7,920.5 354.9,920.5 358.0,920.5 361.1,920.4 364.2,920.4 367.4,920.4 370.5,920.3 373.6,920.2 376.8,920.1 379.9,920.0 383.0,919.9 386.2,919.8 389.3,919.6 392.4,919.4 395.5,919.1 398.7,918.9 401.8,918.5 404.9,918.1 408.1,917.7 411.2,917.1 414.3,916.5 417.5,915.8 420.6,915.0 423.7,914.1 426.9,913.0 430.0,911.8 433.1,910.5 436.2,908.9 439.4,907.2 442.5,905.3 445.6,903.2 448.8,900.9 451.9,898.3 455.0,895.4 458.2,892.3 461.3,889.0 464.4,885.3 467.5,881.4 470.7,877.1 473.8,872.6 476.9,867.8 480.1,862.7 483.2,857.3 486.3,851.6 489.5,845.7 492.6,839.6 495.7,833.2 498.8,826.7 502.0,820.0 505.1,813.2 508.2,806.3 511.4,799.4 514.5,792.6 517.6,785.8 520.8,779.1 523.9,772.6 527.0,766.3 530.2,760.2 533.3,754.6 536.4,749.2 539.5,744.4 542.7,740.0 545.8,736.1 548.9,732.7 552.1,730.0 555.2,727.8 558.3,726.3 561.5,725.5 564.6,725.3 567.7,725.7 570.8,726.9 574.0,728.6 577.1,731.0 580.2,734.0 583.4,737.6 586.5,741.7 589.6,746.3 592.8,751.4 595.9,756.8 599.0,762.7 602.2,768.8 605.3,775.2 608.4,781.8 611.5,788.5 614.7,795.4 617.8,802.3 620.9,809.1 624.1,816.0 627.2,822.7 630.3,829.4 633.5,835.8 636.6,842.1 639.7,848.1 642.8,854.0 646.0,859.5 649.1,864.8 652.2,869.8 655.4,874.5 658.5,878.9 661.6,883.0 664.8,886.9 667.9,890.4 671.0,893.6 674.2,896.6 677.3,899.4 680.4,901.8 683.5,904.1 686.7,906.1 689.8,907.9 692.9,909.6 696.1,911.0 699.2,912.3 702.3,913.5 705.5,914.5 708.6,915.3 711.7,916.1 714.8,916.8 718.0,917.4 721.1,917.9 724.2,918.3 727.4,918.7 730.5,919.0 733.6,919.2 736.8,919.5 739.9,919.7 743.0,919.8 746.2,920.0 749.3,920.1 752.4,920.2 755.5,920.3 758.7,920.3 761.8,920.4 764.9,920.4 768.1,920.5 771.2,920.5 774.3,920.5 777.5,920.5 780.6,920.5 783.7,920.6 786.8,920.6 790.0,920.6" fill="none" stroke="#000" stroke-width="2.1"/>
</g>
<path d="M123.1,920.6 V707.2" stroke="#000" stroke-width="1.15" stroke-dasharray="2.08 6.25" fill="none"/>
<path d="M309.9,920.6 V707.2" stroke="#000" stroke-width="1.15" stroke-dasharray="2.08 6.25" fill="none"/>
<path d="M496.7,920.6 V707.2" stroke="#000" stroke-width="1.15" stroke-dasharray="2.08 6.25" fill="none"/>
<path d="M683.5,920.6 V707.2" stroke="#000" stroke-width="1.15" stroke-dasharray="2.08 6.25" fill="none"/>
<path d="M104.7,885.0 H789.0" stroke="#000" stroke-width="1.15" stroke-dasharray="2.08 6.25" fill="none"/>
<path d="M104.7,849.5 H789.0" stroke="#000" stroke-width="1.15" stroke-dasharray="2.08 6.25" fill="none"/>
<path d="M104.7,813.9 H789.0" stroke="#000" stroke-width="1.15" stroke-dasharray="2.08 6.25" fill="none"/>
<path d="M104.7,778.3 H789.0" stroke="#000" stroke-width="1.15" stroke-dasharray="2.08 6.25" fill="none"/>
<path d="M104.7,742.8 H789.0" stroke="#000" stroke-width="1.15" stroke-dasharray="2.08 6.25" fill="none"/>
<path d="M123.1,920.6 v-8.3 M123.1,707.2 v8.3" stroke="#000" stroke-width="1.05"/>
<path d="M309.9,920.6 v-8.3 M309.9,707.2 v8.3" stroke="#000" stroke-width="1.05"/>
<path d="M496.7,920.6 v-8.3 M496.7,707.2 v8.3" stroke="#000" stroke-width="1.05"/>
<path d="M683.5,920.6 v-8.3 M683.5,707.2 v8.3" stroke="#000" stroke-width="1.05"/>
<path d="M104.7,920.6 h8.3 M789.0,920.6 h-8.3" stroke="#000" stroke-width="1.05"/>
<text transform="translate(51.41,926.30) scale(1.1265,1)" font-size="20.34" fill="#000">0.00</text>
<path d="M104.7,885.0 h8.3 M789.0,885.0 h-8.3" stroke="#000" stroke-width="1.05"/>
<text transform="translate(51.40,890.73) scale(1.1283,1)" font-size="20.34" fill="#000">0.05</text>
<path d="M104.7,849.5 h8.3 M789.0,849.5 h-8.3" stroke="#000" stroke-width="1.05"/>
<text transform="translate(51.41,855.16) scale(1.1265,1)" font-size="20.34" fill="#000">0.10</text>
<path d="M104.7,813.9 h8.3 M789.0,813.9 h-8.3" stroke="#000" stroke-width="1.05"/>
<text transform="translate(51.40,819.60) scale(1.1283,1)" font-size="20.34" fill="#000">0.15</text>
<path d="M104.7,778.3 h8.3 M789.0,778.3 h-8.3" stroke="#000" stroke-width="1.05"/>
<text transform="translate(51.41,784.03) scale(1.1265,1)" font-size="20.34" fill="#000">0.20</text>
<path d="M104.7,742.8 h8.3 M789.0,742.8 h-8.3" stroke="#000" stroke-width="1.05"/>
<text transform="translate(51.40,748.46) scale(1.1283,1)" font-size="20.34" fill="#000">0.25</text>
<path d="M104.7,707.2 h8.3 M789.0,707.2 h-8.3" stroke="#000" stroke-width="1.05"/>
<text transform="translate(51.41,712.90) scale(1.1265,1)" font-size="20.34" fill="#000">0.30</text>
<rect x="104.7" y="707.2" width="684.3" height="213.39999999999998" fill="none" stroke="#000" stroke-width="2.1"/>
<text transform="translate(110.50,959.97) scale(1.0663,1)" font-size="43.36" fill="#000">0</text>
<text transform="translate(284.75,959.97) scale(1.0455,1)" font-size="43.36" fill="#000">10</text>
<text transform="translate(470.48,959.97) scale(1.0686,1)" font-size="43.36" fill="#000">20</text>
<text transform="translate(659.08,959.97) scale(1.0450,1)" font-size="43.36" fill="#000">30</text>
<text transform="translate(325.43,1002.90) scale(1.0930,1)" font-size="33.58" fill="#000">Angle (degree)</text>
<text transform="translate(36.90,926.16) rotate(-90) scale(1.0494,1)" font-size="43.75">Probability</text>
<rect x="118.0" y="720.0" width="256.5" height="107.9" fill="#fff" stroke="#000" stroke-width="2"/>
<rect x="128.4" y="766.2" width="52.7" height="18.5" fill="#87CEEB" stroke="#000" stroke-width="2"/>
<text transform="translate(202.84,752.50) scale(1.0395,1)" font-size="27.33" fill="#000">AA_complex</text>
<text transform="translate(202.84,783.10) scale(1.0888,1)" font-size="27.33" fill="#000">Avg:23.98</text>
<text transform="translate(201.52,812.23) scale(1.1262,1)" font-size="26.55" fill="#000">Std: 3.005</text>
<clipPath id="cp2"><rect x="104.7" y="1025.5" width="684.3" height="213.70000000000005"/></clipPath>
<g clip-path="url(#cp2)">
<rect x="179.1" y="1237.6" width="37.4" height="1.6" fill="#FF4500" stroke="#000" stroke-width="2.1"/>
<rect x="216.5" y="1232.8" width="37.4" height="6.4" fill="#FF4500" stroke="#000" stroke-width="2.1"/>
<rect x="253.9" y="1232.8" width="37.4" height="6.4" fill="#FF4500" stroke="#000" stroke-width="2.1"/>
<rect x="291.2" y="1229.0" width="37.4" height="10.2" fill="#FF4500" stroke="#000" stroke-width="2.1"/>
<rect x="328.6" y="1217.8" width="37.4" height="21.4" fill="#FF4500" stroke="#000" stroke-width="2.1"/>
<rect x="365.9" y="1187.9" width="37.4" height="51.3" fill="#FF4500" stroke="#000" stroke-width="2.1"/>
<rect x="403.3" y="1150.5" width="37.4" height="88.7" fill="#FF4500" stroke="#000" stroke-width="2.1"/>
<rect x="440.7" y="1100.8" width="37.4" height="138.4" fill="#FF4500" stroke="#000" stroke-width="2.1"/>
<rect x="478.0" y="1055.4" width="37.4" height="183.8" fill="#FF4500" stroke="#000" stroke-width="2.1"/>
<rect x="515.4" y="1059.7" width="37.4" height="179.5" fill="#FF4500" stroke="#000" stroke-width="2.1"/>
<rect x="552.7" y="1069.3" width="37.4" height="169.9" fill="#FF4500" stroke="#000" stroke-width="2.1"/>
<rect x="590.1" y="1120.6" width="37.4" height="118.6" fill="#FF4500" stroke="#000" stroke-width="2.1"/>
<rect x="627.5" y="1178.8" width="37.4" height="60.4" fill="#FF4500" stroke="#000" stroke-width="2.1"/>
<rect x="664.8" y="1216.8" width="37.4" height="22.4" fill="#FF4500" stroke="#000" stroke-width="2.1"/>
<rect x="702.2" y="1230.1" width="37.4" height="9.1" fill="#FF4500" stroke="#000" stroke-width="2.1"/>
<polyline points="104.4,1239.2 107.6,1239.2 110.7,1239.2 113.8,1239.2 116.9,1239.2 120.1,1239.2 123.2,1239.2 126.3,1239.2 129.5,1239.2 132.6,1239.2 135.7,1239.2 138.9,1239.2 142.0,1239.2 145.1,1239.2 148.2,1239.2 151.4,1239.2 154.5,1239.2 157.6,1239.2 160.8,1239.2 163.9,1239.2 167.0,1239.2 170.2,1239.2 173.3,1239.2 176.4,1239.2 179.5,1239.2 182.7,1239.2 185.8,1239.1 188.9,1239.1 192.1,1239.1 195.2,1239.1 198.3,1239.1 201.5,1239.1 204.6,1239.1 207.7,1239.1 210.9,1239.0 214.0,1239.0 217.1,1239.0 220.2,1238.9 223.4,1238.9 226.5,1238.9 229.6,1238.8 232.8,1238.8 235.9,1238.7 239.0,1238.6 242.2,1238.6 245.3,1238.5 248.4,1238.4 251.5,1238.3 254.7,1238.1 257.8,1238.0 260.9,1237.8 264.1,1237.7 267.2,1237.5 270.3,1237.3 273.5,1237.1 276.6,1236.8 279.7,1236.5 282.9,1236.2 286.0,1235.9 289.1,1235.5 292.2,1235.1 295.4,1234.6 298.5,1234.1 301.6,1233.6 304.8,1233.0 307.9,1232.4 311.0,1231.7 314.2,1230.9 317.3,1230.1 320.4,1229.3 323.5,1228.3 326.7,1227.3 329.8,1226.2 332.9,1225.0 336.1,1223.8 339.2,1222.4 342.3,1221.0 345.5,1219.4 348.6,1217.8 351.7,1216.1 354.9,1214.2 358.0,1212.3 361.1,1210.2 364.2,1208.0 367.4,1205.8 370.5,1203.3 373.6,1200.8 376.8,1198.2 379.9,1195.4 383.0,1192.5 386.2,1189.5 389.3,1186.4 392.4,1183.1 395.5,1179.8 398.7,1176.3 401.8,1172.7 404.9,1169.0 408.1,1165.2 411.2,1161.3 414.3,1157.4 417.5,1153.3 420.6,1149.2 423.7,1145.0 426.9,1140.8 430.0,1136.5 433.1,1132.2 436.2,1127.8 439.4,1123.5 442.5,1119.1 445.6,1114.8 448.8,1110.5 451.9,1106.2 455.0,1102.0 458.2,1097.8 461.3,1093.7 464.4,1089.8 467.5,1085.9 470.7,1082.1 473.8,1078.5 476.9,1075.1 480.1,1071.7 483.2,1068.6 486.3,1065.7 489.5,1062.9 492.6,1060.4 495.7,1058.1 498.8,1056.0 502.0,1054.2 505.1,1052.6 508.2,1051.2 511.4,1050.2 514.5,1049.3 517.6,1048.8 520.8,1048.5 523.9,1048.5 527.0,1048.8 530.2,1049.3 533.3,1050.1 536.4,1051.1 539.5,1052.5 542.7,1054.0 545.8,1055.8 548.9,1057.9 552.1,1060.2 555.2,1062.7 558.3,1065.4 561.5,1068.3 564.6,1071.4 567.7,1074.7 570.8,1078.2 574.0,1081.8 577.1,1085.5 580.2,1089.4 583.4,1093.4 586.5,1097.4 589.6,1101.6 592.8,1105.8 595.9,1110.1 599.0,1114.4 602.2,1118.7 605.3,1123.1 608.4,1127.4 611.5,1131.8 614.7,1136.1 617.8,1140.4 620.9,1144.6 624.1,1148.8 627.2,1152.9 630.3,1157.0 633.5,1161.0 636.6,1164.9 639.7,1168.7 642.8,1172.4 646.0,1175.9 649.1,1179.4 652.2,1182.8 655.4,1186.1 658.5,1189.2 661.6,1192.2 664.8,1195.1 667.9,1197.9 671.0,1200.6 674.2,1203.1 677.3,1205.5 680.4,1207.8 683.5,1210.0 686.7,1212.1 689.8,1214.0 692.9,1215.9 696.1,1217.6 699.2,1219.3 702.3,1220.8 705.5,1222.3 708.6,1223.6 711.7,1224.9 714.8,1226.1 718.0,1227.2 721.1,1228.2 724.2,1229.2 727.4,1230.1 730.5,1230.9 733.6,1231.6 736.8,1232.3 739.9,1233.0 743.0,1233.6 746.2,1234.1 749.3,1234.6 752.4,1235.0 755.5,1235.5 758.7,1235.8 761.8,1236.2 764.9,1236.5 768.1,1236.8 771.2,1237.0 774.3,1237.3 777.5,1237.5 780.6,1237.7 783.7,1237.8 786.8,1238.0 790.0,1238.1" fill="none" stroke="#000" stroke-width="2.1"/>
</g>
<path d="M123.1,1239.2 V1025.5" stroke="#000" stroke-width="1.15" stroke-dasharray="2.08 6.25" fill="none"/>
<path d="M309.9,1239.2 V1025.5" stroke="#000" stroke-width="1.15" stroke-dasharray="2.08 6.25" fill="none"/>
<path d="M496.7,1239.2 V1025.5" stroke="#000" stroke-width="1.15" stroke-dasharray="2.08 6.25" fill="none"/>
<path d="M683.5,1239.2 V1025.5" stroke="#000" stroke-width="1.15" stroke-dasharray="2.08 6.25" fill="none"/>
<path d="M104.7,1185.8 H789.0" stroke="#000" stroke-width="1.15" stroke-dasharray="2.08 6.25" fill="none"/>
<path d="M104.7,1132.3 H789.0" stroke="#000" stroke-width="1.15" stroke-dasharray="2.08 6.25" fill="none"/>
<path d="M104.7,1078.9 H789.0" stroke="#000" stroke-width="1.15" stroke-dasharray="2.08 6.25" fill="none"/>
<path d="M123.1,1239.2 v-8.3 M123.1,1025.5 v8.3" stroke="#000" stroke-width="1.05"/>
<path d="M309.9,1239.2 v-8.3 M309.9,1025.5 v8.3" stroke="#000" stroke-width="1.05"/>
<path d="M496.7,1239.2 v-8.3 M496.7,1025.5 v8.3" stroke="#000" stroke-width="1.05"/>
<path d="M683.5,1239.2 v-8.3 M683.5,1025.5 v8.3" stroke="#000" stroke-width="1.05"/>
<path d="M104.7,1239.2 h8.3 M789.0,1239.2 h-8.3" stroke="#000" stroke-width="1.05"/>
<text transform="translate(51.41,1244.90) scale(1.1265,1)" font-size="20.34" fill="#000">0.00</text>
<path d="M104.7,1185.8 h8.3 M789.0,1185.8 h-8.3" stroke="#000" stroke-width="1.05"/>
<text transform="translate(51.40,1191.47) scale(1.1283,1)" font-size="20.34" fill="#000">0.05</text>
<path d="M104.7,1132.3 h8.3 M789.0,1132.3 h-8.3" stroke="#000" stroke-width="1.05"/>
<text transform="translate(51.41,1138.05) scale(1.1265,1)" font-size="20.34" fill="#000">0.10</text>
<path d="M104.7,1078.9 h8.3 M789.0,1078.9 h-8.3" stroke="#000" stroke-width="1.05"/>
<text transform="translate(51.40,1084.62) scale(1.1283,1)" font-size="20.34" fill="#000">0.15</text>
<path d="M104.7,1025.5 h8.3 M789.0,1025.5 h-8.3" stroke="#000" stroke-width="1.05"/>
<text transform="translate(51.41,1031.20) scale(1.1265,1)" font-size="20.34" fill="#000">0.20</text>
<rect x="104.7" y="1025.5" width="684.3" height="213.70000000000005" fill="none" stroke="#000" stroke-width="2.1"/>
<text transform="translate(110.50,1278.27) scale(1.0663,1)" font-size="43.36" fill="#000">0</text>
<text transform="translate(284.75,1278.27) scale(1.0455,1)" font-size="43.36" fill="#000">10</text>
<text transform="translate(470.48,1278.27) scale(1.0686,1)" font-size="43.36" fill="#000">20</text>
<text transform="translate(659.08,1278.27) scale(1.0450,1)" font-size="43.36" fill="#000">30</text>
<text transform="translate(325.43,1321.20) scale(1.0930,1)" font-size="33.58" fill="#000">Angle (degree)</text>
<text transform="translate(36.90,1244.46) rotate(-90) scale(1.0494,1)" font-size="43.75">Probability</text>
<rect x="118.0" y="1038.3" width="231.5" height="107.9" fill="#fff" stroke="#000" stroke-width="2"/>
<rect x="128.4" y="1084.5" width="52.7" height="18.5" fill="#FF4500" stroke="#000" stroke-width="2"/>
<text transform="translate(201.53,1070.53) scale(1.0084,1)" font-size="26.55" fill="#000">CG_noELN</text>
<text transform="translate(202.84,1101.40) scale(1.0878,1)" font-size="27.33" fill="#000">Avg:21.10</text>
<text transform="translate(201.52,1130.53) scale(1.1279,1)" font-size="26.55" fill="#000">Std: 4.581</text>
</svg>
</body></html>
